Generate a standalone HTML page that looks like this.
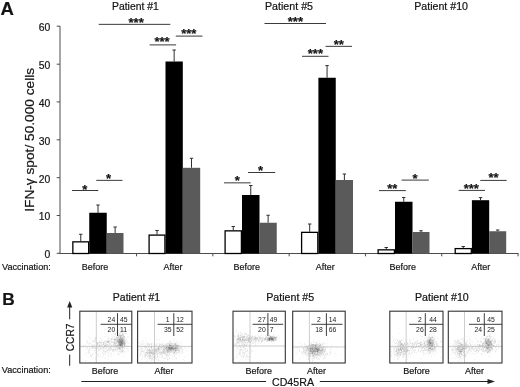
<!DOCTYPE html>
<html><head><meta charset="utf-8"><title>Figure</title>
<style>html,body{margin:0;padding:0;background:#fff}svg{display:block}text{font-family:"Liberation Sans",Arial,Helvetica,sans-serif;fill:#141414;stroke:#141414;stroke-width:.2px}.q text{stroke:none;fill:#222}</style></head><body>
<svg width="520" height="387" viewBox="0 0 520 387">
<rect width="520" height="387" fill="#fff"/>
<text x="0.4" y="15.3" font-size="18.5" text-anchor="start" font-weight="bold">A</text>
<text x="2.3" y="304.8" font-size="17.3" text-anchor="start" font-weight="bold">B</text>
<text x="112" y="9.6" font-size="10.1" text-anchor="start" textLength="46.75" lengthAdjust="spacingAndGlyphs">Patient #1</text>
<text x="265" y="9.6" font-size="10.1" text-anchor="start" textLength="48" lengthAdjust="spacingAndGlyphs">Patient #5</text>
<text x="414.25" y="9.6" font-size="10.1" text-anchor="start" textLength="53.75" lengthAdjust="spacingAndGlyphs">Patient #10</text>
<g stroke="#4c4c4c" stroke-width="1" fill="none">
<line x1="60.0" y1="26" x2="60.0" y2="253.5"/>
<line x1="59.5" y1="253.5" x2="518.4" y2="253.5"/>
<line x1="56.7" y1="26.2" x2="60.0" y2="26.2"/>
<line x1="56.7" y1="64.2" x2="60.0" y2="64.2"/>
<line x1="56.7" y1="101.9" x2="60.0" y2="101.9"/>
<line x1="56.7" y1="139.8" x2="60.0" y2="139.8"/>
<line x1="56.7" y1="177.7" x2="60.0" y2="177.7"/>
<line x1="56.7" y1="215.5" x2="60.0" y2="215.5"/>
<line x1="56.7" y1="253.3" x2="60.0" y2="253.3"/>
<line x1="136.55" y1="253.5" x2="136.55" y2="256.3"/>
<line x1="212.85" y1="253.5" x2="212.85" y2="256.3"/>
<line x1="289.15" y1="253.5" x2="289.15" y2="256.3"/>
<line x1="365.45" y1="253.5" x2="365.45" y2="256.3"/>
<line x1="441.75" y1="253.5" x2="441.75" y2="256.3"/>
<line x1="518.05" y1="253.5" x2="518.05" y2="256.3"/>
</g>
<text x="50.3" y="31.0" font-size="10.4" text-anchor="end">60</text>
<text x="50.3" y="69.0" font-size="10.4" text-anchor="end">50</text>
<text x="50.3" y="106.7" font-size="10.4" text-anchor="end">40</text>
<text x="50.3" y="144.60000000000002" font-size="10.4" text-anchor="end">30</text>
<text x="50.3" y="182.5" font-size="10.4" text-anchor="end">20</text>
<text x="50.3" y="220.3" font-size="10.4" text-anchor="end">10</text>
<text x="50.3" y="258.1" font-size="10.4" text-anchor="end">0</text>
<text transform="translate(34.1,211.8) rotate(-90)" font-size="12.5" textLength="144" lengthAdjust="spacingAndGlyphs">IFN-γ spot/ 50.000 cells</text>
<path d="M80.75 241.25 V234.25 M79.05 234.25 H82.45" stroke="#2e2e2e" stroke-width="1" fill="none"/>
<rect x="72.85" y="241.85" width="15.80" height="11.65" fill="#fff" stroke="#000" stroke-width="1.3"/>
<path d="M98.00 212.75 V205 M96.30 205 H99.70" stroke="#2e2e2e" stroke-width="1" fill="none"/>
<rect x="89.25" y="212.75" width="17.50" height="40.75" fill="#000"/>
<path d="M115.12 233 V227 M113.42 227 H116.83" stroke="#2e2e2e" stroke-width="1" fill="none"/>
<rect x="106.75" y="233" width="16.75" height="20.50" fill="#5a5a5a"/>
<path d="M157.00 234.5 V230.5 M155.30 230.5 H158.70" stroke="#2e2e2e" stroke-width="1" fill="none"/>
<rect x="149.10" y="235.10" width="15.80" height="18.40" fill="#fff" stroke="#000" stroke-width="1.3"/>
<path d="M174.15 61.5 V50 M172.45 50 H175.85" stroke="#2e2e2e" stroke-width="1" fill="none"/>
<rect x="165.50" y="61.5" width="17.30" height="192.00" fill="#000"/>
<path d="M191.50 167.8 V158.3 M189.80 158.3 H193.20" stroke="#2e2e2e" stroke-width="1" fill="none"/>
<rect x="182.80" y="167.8" width="17.40" height="85.70" fill="#5a5a5a"/>
<path d="M233.25 230.25 V226.5 M231.55 226.5 H234.95" stroke="#2e2e2e" stroke-width="1" fill="none"/>
<rect x="225.10" y="230.85" width="16.30" height="22.65" fill="#fff" stroke="#000" stroke-width="1.3"/>
<path d="M250.75 195 V185.5 M249.05 185.5 H252.45" stroke="#2e2e2e" stroke-width="1" fill="none"/>
<rect x="242.00" y="195" width="17.50" height="58.50" fill="#000"/>
<path d="M268.12 222.75 V215.25 M266.43 215.25 H269.82" stroke="#2e2e2e" stroke-width="1" fill="none"/>
<rect x="259.50" y="222.75" width="17.25" height="30.75" fill="#5a5a5a"/>
<path d="M309.70 231.75 V224 M308.00 224 H311.40" stroke="#2e2e2e" stroke-width="1" fill="none"/>
<rect x="301.60" y="232.35" width="16.20" height="21.15" fill="#fff" stroke="#000" stroke-width="1.3"/>
<path d="M327.07 77.75 V65.6 M325.38 65.6 H328.77" stroke="#2e2e2e" stroke-width="1" fill="none"/>
<rect x="318.40" y="77.75" width="17.35" height="175.75" fill="#000"/>
<path d="M344.38 180 V174 M342.68 174 H346.07" stroke="#2e2e2e" stroke-width="1" fill="none"/>
<rect x="335.75" y="180" width="17.25" height="73.50" fill="#5a5a5a"/>
<path d="M386.25 249.25 V247.5 M384.55 247.5 H387.95" stroke="#2e2e2e" stroke-width="1" fill="none"/>
<rect x="378.10" y="249.85" width="16.30" height="3.65" fill="#fff" stroke="#000" stroke-width="1.3"/>
<path d="M403.75 201.75 V197.5 M402.05 197.5 H405.45" stroke="#2e2e2e" stroke-width="1" fill="none"/>
<rect x="395.00" y="201.75" width="17.50" height="51.75" fill="#000"/>
<path d="M421.00 232 V230.75 M419.30 230.75 H422.70" stroke="#2e2e2e" stroke-width="1" fill="none"/>
<rect x="412.50" y="232" width="17.00" height="21.50" fill="#5a5a5a"/>
<path d="M463.25 248 V246.5 M461.55 246.5 H464.95" stroke="#2e2e2e" stroke-width="1" fill="none"/>
<rect x="455.20" y="248.60" width="16.10" height="4.90" fill="#fff" stroke="#000" stroke-width="1.3"/>
<path d="M480.55 200.2 V197.6 M478.85 197.6 H482.25" stroke="#2e2e2e" stroke-width="1" fill="none"/>
<rect x="471.90" y="200.2" width="17.30" height="53.30" fill="#000"/>
<path d="M497.70 231.25 V230 M496.00 230 H499.40" stroke="#2e2e2e" stroke-width="1" fill="none"/>
<rect x="489.20" y="231.25" width="17.00" height="22.25" fill="#5a5a5a"/>
<line x1="72" y1="190.5" x2="98.25" y2="190.5" stroke="#3a3a3a" stroke-width="1"/>
<text x="84.83" y="193.55" font-size="12.4" text-anchor="middle" font-weight="bold" textLength="5.07" lengthAdjust="spacingAndGlyphs">*</text>
<line x1="96.25" y1="180.35" x2="122.5" y2="180.35" stroke="#3a3a3a" stroke-width="1"/>
<text x="108.67" y="182.7" font-size="12.4" text-anchor="middle" font-weight="bold" textLength="5.07" lengthAdjust="spacingAndGlyphs">*</text>
<line x1="98.75" y1="24.35" x2="170.3" y2="24.35" stroke="#3a3a3a" stroke-width="1"/>
<text x="136.12" y="26.7" font-size="12.4" text-anchor="middle" font-weight="bold" textLength="15.21" lengthAdjust="spacingAndGlyphs">***</text>
<line x1="149.6" y1="44.9" x2="176.1" y2="44.9" stroke="#3a3a3a" stroke-width="1"/>
<text x="162.05" y="46.15" font-size="12.4" text-anchor="middle" font-weight="bold" textLength="15.21" lengthAdjust="spacingAndGlyphs">***</text>
<line x1="175.75" y1="36.1" x2="202.5" y2="36.1" stroke="#3a3a3a" stroke-width="1"/>
<text x="188.82" y="37.65" font-size="12.4" text-anchor="middle" font-weight="bold" textLength="15.21" lengthAdjust="spacingAndGlyphs">***</text>
<line x1="224" y1="182.85" x2="250.7" y2="182.85" stroke="#3a3a3a" stroke-width="1"/>
<text x="237.35" y="185.2" font-size="12.4" text-anchor="middle" font-weight="bold" textLength="5.07" lengthAdjust="spacingAndGlyphs">*</text>
<line x1="248" y1="172.5" x2="275.2" y2="172.5" stroke="#3a3a3a" stroke-width="1"/>
<text x="260.60" y="175.15" font-size="12.4" text-anchor="middle" font-weight="bold" textLength="5.07" lengthAdjust="spacingAndGlyphs">*</text>
<line x1="264.5" y1="23.5" x2="326" y2="23.5" stroke="#3a3a3a" stroke-width="1"/>
<text x="295.40" y="26.15" font-size="12.4" text-anchor="middle" font-weight="bold" textLength="15.21" lengthAdjust="spacingAndGlyphs">***</text>
<line x1="302" y1="56.3" x2="328.5" y2="56.3" stroke="#3a3a3a" stroke-width="1"/>
<text x="315.40" y="58.15" font-size="12.4" text-anchor="middle" font-weight="bold" textLength="15.21" lengthAdjust="spacingAndGlyphs">***</text>
<line x1="325.5" y1="46.35" x2="352" y2="46.35" stroke="#3a3a3a" stroke-width="1"/>
<text x="338.75" y="49.0" font-size="12.4" text-anchor="middle" font-weight="bold" textLength="10.14" lengthAdjust="spacingAndGlyphs">**</text>
<line x1="379" y1="190.6" x2="405.8" y2="190.6" stroke="#3a3a3a" stroke-width="1"/>
<text x="392.30" y="192.85" font-size="12.4" text-anchor="middle" font-weight="bold" textLength="10.14" lengthAdjust="spacingAndGlyphs">**</text>
<line x1="401.6" y1="180.1" x2="428.8" y2="180.1" stroke="#3a3a3a" stroke-width="1"/>
<text x="415.10" y="182.55" font-size="12.4" text-anchor="middle" font-weight="bold" textLength="5.07" lengthAdjust="spacingAndGlyphs">*</text>
<line x1="458.7" y1="190.4" x2="485" y2="190.4" stroke="#3a3a3a" stroke-width="1"/>
<text x="471.35" y="193.15" font-size="12.4" text-anchor="middle" font-weight="bold" textLength="15.21" lengthAdjust="spacingAndGlyphs">***</text>
<line x1="480.3" y1="180.4" x2="506.7" y2="180.4" stroke="#3a3a3a" stroke-width="1"/>
<text x="493.50" y="182.45" font-size="12.4" text-anchor="middle" font-weight="bold" textLength="10.14" lengthAdjust="spacingAndGlyphs">**</text>
<text x="2" y="269.6" font-size="9.5" text-anchor="start" textLength="48.75" lengthAdjust="spacingAndGlyphs">Vaccination:</text>
<text x="81.75" y="269.6" font-size="9.5" text-anchor="start" textLength="26.5" lengthAdjust="spacingAndGlyphs">Before</text>
<text x="163.6" y="269.6" font-size="9.5" text-anchor="start" textLength="18.9" lengthAdjust="spacingAndGlyphs">After</text>
<text x="233.6" y="269.6" font-size="9.5" text-anchor="start" textLength="26.5" lengthAdjust="spacingAndGlyphs">Before</text>
<text x="315.8" y="269.6" font-size="9.5" text-anchor="start" textLength="18.9" lengthAdjust="spacingAndGlyphs">After</text>
<text x="389.5" y="269.6" font-size="9.5" text-anchor="start" textLength="26.5" lengthAdjust="spacingAndGlyphs">Before</text>
<text x="471.25" y="269.6" font-size="9.5" text-anchor="start" textLength="18.9" lengthAdjust="spacingAndGlyphs">After</text>
<text x="1.8" y="373.2" font-size="9.5" text-anchor="start" textLength="49" lengthAdjust="spacingAndGlyphs">Vaccination:</text>
<text x="112.8" y="301" font-size="10.1" text-anchor="start" textLength="47.3" lengthAdjust="spacingAndGlyphs">Patient #1</text>
<text x="266.2" y="301" font-size="10.1" text-anchor="start" textLength="48" lengthAdjust="spacingAndGlyphs">Patient #5</text>
<text x="415" y="301" font-size="10.1" text-anchor="start" textLength="53.75" lengthAdjust="spacingAndGlyphs">Patient #10</text>
<text transform="translate(74.1,351.3) rotate(-90)" font-size="11.6" textLength="27.8" lengthAdjust="spacingAndGlyphs">CCR7</text>
<g stroke="#222" stroke-width="1" fill="none"><line x1="69.7" y1="305" x2="69.7" y2="319.3"/><line x1="69.7" y1="354.6" x2="69.7" y2="365.8"/></g>
<path d="M69.7 301 L72.3 307.6 L67.1 307.6 Z" fill="#222"/>
<g stroke="#222" stroke-width="1" fill="none"><line x1="81.3" y1="381.5" x2="266.1" y2="381.5"/><line x1="319.8" y1="381.5" x2="489" y2="381.5"/></g>
<path d="M495 381.5 L487.5 378.9 L487.5 384.1 Z" fill="#222"/>
<text x="272" y="385.6" font-size="11.5" text-anchor="start" textLength="42" lengthAdjust="spacingAndGlyphs">CD45RA</text>
<defs><filter id="bl" x="-5%" y="-5%" width="110%" height="110%"><feGaussianBlur stdDeviation="0.3"/></filter></defs>
<g class="q">
<rect x="79.8" y="311.2" width="52.00" height="51.80" fill="#fff"/>
<path filter="url(#bl)" d="M120.1 343.6h.6M120.2 340.2h.6M118.7 340.6h.6M123.1 343.3h.6M123.0 342.5h.6M121.6 342.3h.6M117.0 345.1h.6M121.8 343.6h.6M117.0 334.2h.6M118.7 339.5h.6M121.4 341.3h.6M121.8 338.8h.6M121.4 343.2h.6M119.2 348.7h.6M121.9 346.5h.6M119.3 338.4h.6M119.9 341.1h.6M122.1 342.5h.6M119.7 337.5h.6M119.6 346.6h.6M118.9 342.5h.6M121.6 335.2h.6M120.8 347.0h.6M116.3 340.1h.6M120.5 338.1h.6M121.8 341.2h.6M117.5 345.0h.6M122.2 345.5h.6M123.9 343.0h.6M121.0 336.0h.6M122.1 338.9h.6M119.7 336.2h.6M118.6 339.3h.6M123.5 333.0h.6M117.5 342.5h.6M123.9 343.9h.6M116.5 330.9h.6M121.5 338.4h.6M118.2 345.6h.6M123.1 342.2h.6M121.2 343.3h.6M124.2 344.1h.6M121.8 343.8h.6M117.2 346.9h.6M122.8 343.7h.6M116.4 338.8h.6M122.6 333.9h.6M120.3 345.8h.6M117.8 348.3h.6M121.9 340.9h.6M121.4 344.2h.6M121.0 346.3h.6M119.2 339.8h.6M123.0 341.6h.6M118.8 345.5h.6M123.9 339.6h.6M117.7 340.9h.6M120.4 340.2h.6M123.8 337.2h.6M123.5 336.2h.6M119.0 344.2h.6M123.2 345.1h.6M121.5 342.1h.6M121.0 343.9h.6M120.3 342.7h.6M122.0 341.5h.6M122.4 343.9h.6M125.1 342.9h.6M119.8 339.9h.6M120.7 345.4h.6M120.0 343.1h.6M124.7 330.7h.6M118.2 342.5h.6M121.6 342.5h.6M119.8 344.3h.6M121.3 339.3h.6M126.0 343.0h.6M119.5 341.1h.6M120.2 341.2h.6M114.7 339.5h.6M122.9 336.6h.6M120.6 345.5h.6M122.6 347.8h.6M117.0 340.0h.6M119.9 344.1h.6M123.1 330.2h.6M123.1 335.4h.6M122.2 335.2h.6M121.1 346.5h.6M120.4 342.3h.6M122.5 342.1h.6M120.5 347.9h.6M123.0 340.3h.6M126.7 336.7h.6M122.7 340.4h.6M121.0 344.5h.6M121.2 344.2h.6M117.3 335.2h.6M122.1 337.5h.6M118.4 335.3h.6M123.5 344.6h.6M123.9 337.6h.6M120.7 336.7h.6M122.4 348.2h.6M118.7 348.1h.6M122.9 340.8h.6M116.4 347.4h.6M120.5 339.0h.6M121.6 343.2h.6M124.0 337.2h.6M123.2 347.7h.6M123.9 340.7h.6M119.1 345.8h.6M121.0 342.0h.6M123.8 340.4h.6M115.6 339.9h.6M116.6 344.9h.6M121.4 338.9h.6M120.7 345.0h.6M120.9 347.1h.6M120.6 345.9h.6M124.0 348.3h.6M119.2 345.2h.6M116.6 336.9h.6M116.4 346.0h.6M118.0 341.4h.6M120.3 341.4h.6M119.4 342.5h.6M124.6 341.7h.6M121.9 345.7h.6M120.3 336.2h.6M119.5 346.0h.6M117.1 339.0h.6M122.9 344.8h.6M120.7 344.9h.6M121.1 336.5h.6M117.3 338.8h.6M122.7 339.1h.6M118.7 338.3h.6M117.3 341.0h.6M118.1 343.0h.6M115.5 342.9h.6M119.3 333.3h.6M122.3 340.3h.6M115.8 337.8h.6M121.3 339.6h.6M122.4 344.6h.6M122.2 342.9h.6M123.6 344.3h.6M121.7 332.7h.6M122.7 347.0h.6M120.0 339.5h.6M125.0 334.1h.6M121.7 351.7h.6M118.7 344.4h.6M124.9 341.0h.6M121.9 345.3h.6M118.7 341.1h.6M121.3 345.0h.6M120.6 340.7h.6M118.5 340.0h.6M122.7 341.9h.6M118.8 338.0h.6M126.6 346.3h.6M122.1 330.6h.6M122.1 343.5h.6M124.4 343.3h.6M120.6 343.7h.6M116.4 345.8h.6M121.4 338.6h.6M123.6 349.1h.6M117.6 338.7h.6M121.3 342.3h.6M119.8 337.4h.6M125.4 345.9h.6M118.1 335.9h.6M124.4 345.7h.6M124.7 344.9h.6M118.8 342.6h.6M115.9 338.4h.6M120.6 343.7h.6M119.1 341.0h.6M121.7 343.1h.6M122.1 342.4h.6M120.0 344.8h.6M120.8 338.0h.6M119.3 341.5h.6M120.5 342.2h.6M120.7 342.2h.6M120.4 336.2h.6M121.6 345.9h.6M121.7 340.7h.6M121.7 337.4h.6M116.5 341.8h.6M118.7 344.6h.6M118.3 330.5h.6M118.4 348.1h.6M119.9 335.7h.6M119.0 343.7h.6M121.8 342.2h.6M124.0 344.5h.6M120.7 344.0h.6M124.3 345.6h.6M123.0 337.0h.6M120.4 344.6h.6M120.0 346.0h.6M122.0 345.3h.6M120.2 352.2h.6M123.4 340.6h.6M120.9 352.4h.6M119.9 345.2h.6M122.9 341.5h.6M118.1 342.3h.6M121.5 346.2h.6M122.4 341.6h.6M122.6 343.8h.6M121.2 341.7h.6M120.2 344.4h.6M118.4 338.9h.6M120.7 335.4h.6M119.7 333.1h.6M119.2 343.9h.6M121.9 341.3h.6M120.2 335.5h.6M124.7 343.7h.6M123.1 337.8h.6M120.3 333.9h.6M122.4 345.4h.6M116.5 341.3h.6M122.1 334.1h.6M116.7 337.0h.6M119.3 335.6h.6M120.8 342.5h.6M122.1 344.4h.6M124.0 346.4h.6M117.8 339.4h.6M118.4 337.0h.6M120.5 341.5h.6M121.8 334.8h.6M118.0 341.4h.6M120.3 340.2h.6M120.6 338.3h.6M122.2 343.0h.6M120.5 338.7h.6M120.3 330.1h.6M118.5 341.7h.6M117.4 342.3h.6M121.0 335.7h.6M120.1 340.2h.6M121.7 344.1h.6M120.6 337.9h.6M120.4 341.2h.6M122.3 342.7h.6M119.1 335.8h.6M119.9 338.4h.6M118.3 341.0h.6M119.6 341.9h.6M121.9 339.8h.6M125.8 340.1h.6M123.1 342.0h.6M123.2 331.5h.6M119.0 342.5h.6M122.0 351.3h.6M121.4 346.9h.6M122.4 345.5h.6M121.8 340.8h.6M121.8 337.0h.6M123.3 337.2h.6M121.2 350.4h.6M120.2 341.6h.6M123.3 341.6h.6M118.9 342.6h.6M122.0 344.5h.6M119.0 348.9h.6M124.4 341.6h.6M121.3 339.7h.6M123.8 338.5h.6M122.2 339.5h.6M119.2 344.5h.6M123.6 341.5h.6M119.2 344.9h.6M120.6 342.8h.6M124.1 346.3h.6M119.6 351.1h.6M120.7 344.8h.6M119.3 341.3h.6M116.9 349.0h.6M123.7 336.4h.6M117.4 334.7h.6M123.3 339.6h.6M120.6 340.2h.6M120.4 336.9h.6M120.8 335.5h.6M120.5 342.8h.6M121.7 340.5h.6M118.7 342.2h.6M119.6 348.1h.6M122.4 341.0h.6M119.7 338.5h.6M118.6 340.0h.6M121.3 343.7h.6M122.0 350.3h.6M119.1 341.6h.6M126.8 333.7h.6M119.6 342.2h.6M121.0 343.2h.6M120.2 343.0h.6M120.8 344.7h.6M116.5 337.8h.6M120.7 337.2h.6M118.4 344.1h.6M119.3 344.2h.6M122.3 342.8h.6M121.8 341.1h.6M117.6 341.4h.6M121.7 339.3h.6M120.5 344.6h.6M118.8 344.2h.6M124.8 339.2h.6M121.0 340.9h.6M124.1 342.8h.6M122.7 338.6h.6M120.7 341.5h.6M116.8 347.6h.6M122.7 334.2h.6M122.3 340.9h.6M121.7 343.0h.6M117.4 340.6h.6M124.0 339.1h.6M118.4 335.8h.6M118.0 342.9h.6M124.4 343.3h.6M121.2 350.9h.6M119.6 338.7h.6M121.9 343.8h.6M118.5 336.6h.6M121.3 342.5h.6M117.8 340.7h.6M119.5 343.4h.6M120.4 341.1h.6M119.9 345.9h.6M123.8 340.0h.6M122.6 338.3h.6M120.9 344.6h.6M124.0 339.9h.6M120.5 342.3h.6M117.4 341.6h.6M119.2 343.1h.6M118.2 333.2h.6M120.8 342.6h.6M119.5 345.2h.6M120.1 339.0h.6M121.8 334.9h.6M119.2 341.4h.6M122.6 340.8h.6M121.4 338.7h.6M121.4 348.5h.6M119.2 351.4h.6M119.3 341.6h.6M121.1 345.8h.6M118.0 332.7h.6M122.0 344.8h.6M122.1 352.5h.6M121.2 342.6h.6M122.7 343.0h.6M124.4 336.3h.6M119.9 327.0h.6M122.5 339.9h.6M122.7 350.5h.6M120.7 340.4h.6M119.6 338.0h.6M119.3 344.2h.6M120.8 341.8h.6M120.3 345.3h.6M121.8 340.9h.6M122.2 340.9h.6M118.2 347.6h.6M121.7 337.5h.6M123.1 342.9h.6M117.3 348.3h.6M121.4 345.2h.6M121.1 340.9h.6M117.3 345.6h.6M120.8 340.3h.6M121.5 341.8h.6M122.2 339.9h.6M120.6 332.5h.6M119.8 344.3h.6M123.6 340.0h.6M120.4 348.2h.6M120.0 344.6h.6M124.4 341.7h.6M123.4 338.5h.6M121.2 341.2h.6M121.0 346.2h.6M126.0 338.7h.6M119.4 343.6h.6M118.4 343.6h.6M122.0 340.3h.6M121.9 335.0h.6M122.4 335.0h.6M119.2 339.2h.6M119.8 345.1h.6M120.9 339.8h.6M121.9 348.1h.6M120.7 343.0h.6M123.4 342.6h.6M117.9 352.0h.6M125.6 333.2h.6M120.6 343.3h.6M122.8 344.3h.6M120.1 337.1h.6M120.9 345.8h.6M118.3 337.2h.6M120.6 333.4h.6M120.1 339.7h.6M121.7 338.6h.6M118.8 339.8h.6M120.6 338.7h.6M120.7 344.7h.6M123.9 351.5h.6M114.1 340.9h.6M105.6 352.5h.6M114.4 342.8h.6M120.6 336.2h.6M120.3 342.9h.6M108.9 344.5h.6M124.0 333.7h.6M122.0 344.0h.6M120.4 345.2h.6M124.5 341.9h.6M122.4 341.0h.6M121.6 338.9h.6M117.5 351.7h.6M120.2 342.2h.6M112.3 339.0h.6M119.0 347.7h.6M120.1 345.6h.6M117.8 349.8h.6M116.0 340.3h.6M122.4 343.3h.6M116.6 340.1h.6M116.7 346.1h.6M119.8 337.0h.6M120.1 343.9h.6M113.0 346.9h.6M116.6 341.3h.6M122.0 349.6h.6M114.6 345.2h.6M113.6 354.6h.6M115.5 349.0h.6M114.8 347.1h.6M129.1 330.3h.6M115.8 345.5h.6M117.5 339.7h.6M128.8 343.4h.6M109.8 347.3h.6M109.4 348.8h.6M115.1 343.7h.6M124.3 343.6h.6M111.0 334.5h.6M123.9 346.7h.6M113.9 347.3h.6M120.5 346.2h.6M106.7 341.5h.6M122.5 346.7h.6M122.4 330.7h.6M118.8 345.5h.6M130.8 338.2h.6M116.4 343.2h.6M122.4 340.8h.6M123.7 339.1h.6M119.3 340.4h.6M118.8 339.5h.6M110.0 348.5h.6M119.5 340.2h.6M119.0 348.0h.6M113.1 342.4h.6M120.7 345.6h.6M116.3 332.5h.6M124.2 344.6h.6M118.1 341.6h.6M119.3 340.9h.6M112.9 339.3h.6M115.0 339.9h.6M112.2 346.2h.6M111.5 346.3h.6M112.9 344.8h.6M124.9 344.0h.6M114.3 343.2h.6M118.7 334.3h.6M115.0 343.8h.6M115.7 343.4h.6M121.7 346.8h.6M122.5 345.9h.6M116.6 342.9h.6M116.6 341.4h.6M117.1 334.4h.6M116.3 342.9h.6M113.1 342.9h.6M120.6 342.2h.6M128.4 330.0h.6M117.0 333.9h.6M122.9 356.3h.6M105.5 343.6h.6M120.6 341.5h.6M120.8 331.8h.6M122.3 344.9h.6M118.1 340.1h.6M121.2 340.6h.6M119.1 340.4h.6M106.8 342.8h.6M119.0 346.8h.6M113.6 342.8h.6M121.1 343.7h.6M124.2 353.0h.6M113.5 333.4h.6M122.3 350.6h.6M122.6 347.1h.6M114.9 339.4h.6M122.4 338.4h.6M108.9 338.0h.6M130.5 352.6h.6M114.6 339.4h.6M119.2 339.3h.6M124.6 342.6h.6M112.6 349.5h.6M115.1 344.1h.6M117.9 341.4h.6M119.6 339.5h.6M108.8 332.0h.6M111.7 339.2h.6M117.9 343.3h.6M120.8 343.6h.6M114.0 339.5h.6M107.4 342.2h.6M120.4 345.6h.6M117.4 342.1h.6M122.7 343.1h.6M121.7 345.9h.6M119.1 349.5h.6M115.1 341.2h.6M114.0 339.0h.6M125.8 351.8h.6M118.1 345.8h.6M123.9 347.0h.6M124.0 336.7h.6M114.8 345.3h.6M125.2 343.5h.6M113.7 341.2h.6M114.7 338.7h.6M125.5 339.9h.6M118.1 353.8h.6M123.9 344.7h.6M114.9 345.1h.6M126.1 346.1h.6M124.3 343.5h.6M120.6 342.0h.6M120.1 349.5h.6M110.8 342.7h.6M119.2 340.1h.6M116.5 346.9h.6M128.0 346.1h.6M119.6 335.2h.6M127.6 343.4h.6M117.8 337.4h.6M117.7 337.5h.6M118.4 345.3h.6M118.2 344.4h.6M113.7 350.1h.6M114.7 333.9h.6M117.1 339.2h.6M113.0 341.2h.6M119.5 337.1h.6M117.3 350.1h.6M121.4 342.2h.6M118.6 342.4h.6M117.8 346.7h.6M117.5 331.0h.6M117.9 338.6h.6M121.3 339.9h.6M118.7 353.9h.6M112.8 337.4h.6M110.9 331.0h.6M108.6 344.8h.6M114.8 333.7h.6M110.6 346.1h.6M114.1 341.2h.6M119.7 349.8h.6M127.7 348.2h.6M118.7 343.9h.6M127.0 350.1h.6M116.4 345.3h.6M119.4 343.3h.6M115.5 336.4h.6M115.3 335.3h.6M124.1 345.7h.6M112.0 350.0h.6M122.5 333.5h.6M127.2 347.0h.6M128.3 336.8h.6M120.7 345.1h.6M119.0 343.9h.6M123.3 335.5h.6M111.8 336.0h.6M115.2 340.0h.6M119.8 344.3h.6M118.2 339.6h.6M115.8 347.8h.6M121.8 343.5h.6M116.4 350.8h.6M115.0 346.2h.6M123.8 341.7h.6M122.1 337.4h.6M123.1 344.0h.6M110.1 346.3h.6M113.5 349.4h.6M114.6 342.2h.6M119.4 341.3h.6M119.3 340.2h.6M121.4 343.0h.6M119.1 329.2h.6M123.8 343.2h.6M109.1 343.5h.6M120.3 348.4h.6M112.6 350.7h.6M117.2 355.0h.6M117.3 346.4h.6M116.2 337.4h.6M123.5 347.5h.6M125.7 347.3h.6M115.1 334.7h.6M114.7 339.6h.6M113.9 345.9h.6M119.6 341.7h.6M118.9 342.3h.6M119.1 346.8h.6M122.8 339.6h.6M110.5 350.1h.6M118.6 348.5h.6M109.8 341.4h.6M118.1 335.8h.6M115.4 346.6h.6M123.4 351.0h.6M113.7 336.0h.6M120.6 347.7h.6M119.0 336.5h.6M121.9 347.0h.6M120.8 340.6h.6M119.5 347.0h.6M115.2 333.8h.6M119.6 345.4h.6M118.1 347.4h.6M115.1 342.6h.6M116.5 345.9h.6M126.0 341.7h.6M128.3 350.6h.6M122.0 345.9h.6M126.9 342.1h.6M117.4 337.7h.6M120.4 349.7h.6M120.7 345.1h.6M117.0 343.8h.6M110.9 348.2h.6M116.0 337.5h.6M114.2 338.9h.6M122.3 348.3h.6M111.2 347.6h.6M122.4 340.1h.6M110.6 339.3h.6M114.8 344.7h.6M116.2 332.9h.6M119.2 335.3h.6M122.5 337.0h.6M114.5 338.7h.6M115.3 349.5h.6M122.3 346.0h.6M119.6 335.3h.6M115.4 340.2h.6M113.1 345.5h.6M97.3 342.5h.6M94.6 337.8h.6M109.4 349.7h.6M105.6 341.6h.6M114.9 346.0h.6M112.3 350.2h.6M114.1 343.5h.6M113.5 347.7h.6M90.2 343.6h.6M91.2 344.6h.6M109.2 341.3h.6M85.5 349.5h.6M107.4 350.1h.6M92.1 348.7h.6M122.7 352.0h.6M102.1 345.9h.6M102.6 348.5h.6M113.3 345.3h.6M91.8 347.6h.6M99.8 347.2h.6M106.4 350.7h.6M114.2 343.4h.6M107.1 351.2h.6M99.2 346.5h.6M114.7 349.4h.6M108.7 340.4h.6M92.7 345.9h.6M107.5 353.9h.6M96.2 349.0h.6M110.9 339.1h.6M96.6 345.6h.6M99.6 344.5h.6M108.2 342.2h.6M108.2 342.8h.6M99.1 346.9h.6M98.8 346.0h.6M118.4 345.1h.6M102.7 347.6h.6M100.7 348.8h.6M92.5 347.2h.6M99.4 342.2h.6M119.9 342.0h.6M119.8 347.3h.6M117.1 341.6h.6M114.8 350.1h.6M103.0 344.5h.6M126.1 345.6h.6M100.2 342.8h.6M108.0 346.2h.6M105.6 351.0h.6M101.0 346.7h.6M117.1 341.5h.6M113.3 351.4h.6M91.8 341.2h.6M94.7 338.5h.6M108.1 338.5h.6M108.5 350.1h.6M89.5 343.9h.6M86.7 347.7h.6M97.4 344.1h.6M104.5 346.9h.6M100.9 345.1h.6M99.1 345.4h.6M93.4 345.2h.6M86.6 343.3h.6M121.2 345.3h.6M92.7 345.9h.6M95.2 339.2h.6M97.4 347.6h.6M107.5 344.7h.6M95.7 341.2h.6M116.1 345.9h.6M95.4 337.6h.6M91.7 353.7h.6M93.7 344.7h.6M105.9 344.4h.6M101.5 340.2h.6M94.5 350.9h.6M97.2 348.0h.6M88.8 344.0h.6M106.3 348.6h.6M93.9 347.1h.6M107.5 342.4h.6M108.3 341.9h.6M96.8 344.9h.6M95.0 339.9h.6M100.2 347.7h.6M100.4 349.4h.6M93.6 340.4h.6M118.0 346.4h.6M112.5 342.1h.6M111.2 345.9h.6M109.8 345.1h.6M114.9 342.7h.6M95.3 339.8h.6M114.4 342.4h.6M94.6 341.7h.6M100.0 340.6h.6M101.4 342.8h.6M99.0 341.6h.6M104.3 343.4h.6M105.0 345.9h.6M107.1 337.3h.6M99.2 342.2h.6M111.0 339.5h.6M97.6 344.0h.6M101.0 348.5h.6M100.0 348.4h.6M90.8 338.7h.6M115.0 346.5h.6M108.4 345.4h.6M108.4 340.7h.6M112.5 343.1h.6M112.9 345.3h.6M86.2 340.5h.6M114.1 344.5h.6M100.4 345.8h.6M100.2 343.1h.6M104.9 345.5h.6M117.7 345.2h.6M120.9 351.3h.6M119.4 348.7h.6M105.2 345.5h.6M102.7 342.4h.6M103.4 342.8h.6M118.8 346.9h.6M100.0 338.3h.6M103.5 343.5h.6M94.2 341.0h.6M83.7 347.0h.6M103.4 354.0h.6M103.7 344.5h.6M117.0 345.5h.6M105.5 343.7h.6M98.6 350.2h.6M113.0 351.0h.6M100.9 345.1h.6M96.1 348.4h.6M91.5 347.0h.6M113.9 349.9h.6M95.5 348.8h.6M97.6 342.4h.6M92.1 349.0h.6M118.8 342.9h.6M97.2 343.8h.6M126.6 348.5h.6M99.1 338.7h.6M97.9 349.2h.6M120.8 344.1h.6M97.8 343.2h.6M87.0 348.2h.6M94.2 348.7h.6M88.6 340.6h.6M106.6 342.3h.6M111.0 345.0h.6M93.4 347.2h.6M111.6 338.3h.6M120.4 346.7h.6M110.8 338.5h.6M97.5 343.8h.6M113.7 339.9h.6M96.0 337.9h.6M101.8 346.2h.6M88.8 342.9h.6M108.6 350.5h.6M110.0 343.9h.6M93.4 341.7h.6M98.0 345.5h.6M103.6 350.8h.6M106.6 341.2h.6M117.9 348.3h.6M104.9 342.5h.6M87.2 341.4h.6M112.2 342.2h.6M92.1 345.7h.6M106.2 347.1h.6M109.9 349.9h.6M96.4 348.4h.6M95.1 347.4h.6M105.6 345.9h.6M112.7 344.9h.6M114.0 348.1h.6M105.2 343.0h.6M97.2 343.2h.6M102.2 344.9h.6M110.9 342.0h.6M97.6 343.9h.6M105.7 341.4h.6M118.5 343.0h.6M113.7 336.8h.6M103.9 346.0h.6M105.7 347.1h.6M106.5 345.6h.6M87.0 342.5h.6M82.9 347.2h.6M106.8 344.3h.6M96.6 343.0h.6M120.6 351.1h.6M103.5 349.5h.6M89.7 338.2h.6M99.7 341.9h.6M99.0 345.7h.6M104.4 346.0h.6M103.7 348.3h.6M120.0 340.6h.6M105.5 344.1h.6M107.2 339.6h.6M88.2 336.9h.6M108.7 345.7h.6M104.7 336.7h.6M100.6 342.4h.6M91.3 341.8h.6M110.3 346.9h.6M103.8 346.8h.6M98.6 345.2h.6M104.4 346.9h.6M103.4 344.5h.6M102.8 342.7h.6M124.1 346.8h.6M107.9 353.0h.6M116.6 339.6h.6M110.3 347.9h.6M121.0 349.6h.6M110.9 340.9h.6M96.2 345.9h.6M108.5 341.4h.6M100.5 343.6h.6M104.5 346.2h.6M101.4 340.7h.6M115.2 350.6h.6M103.0 348.6h.6M108.0 347.3h.6M108.3 342.3h.6M109.2 348.5h.6M95.9 351.9h.6M122.8 351.4h.6M121.9 347.6h.6M101.0 342.9h.6M96.7 345.4h.6M103.7 347.3h.6M85.8 353.1h.6M124.5 344.9h.6M110.1 346.7h.6M106.5 344.3h.6M102.9 342.1h.6M105.6 344.9h.6M106.9 342.0h.6M104.4 345.2h.6M109.4 341.3h.6M107.8 348.4h.6M109.4 343.7h.6M99.6 344.2h.6M110.6 350.4h.6M102.6 342.8h.6M107.4 345.7h.6M95.8 342.4h.6M103.1 347.4h.6M93.3 341.4h.6M108.5 340.7h.6M105.0 346.2h.6M98.9 345.9h.6M99.4 349.3h.6M103.4 346.8h.6M110.9 342.6h.6M98.2 351.0h.6M109.6 348.0h.6M105.5 348.2h.6M107.4 359.7h.6M96.0 353.2h.6M90.7 355.9h.6M112.1 351.2h.6M88.7 353.0h.6M111.5 356.4h.6M108.1 341.8h.6M93.2 358.1h.6M87.7 356.7h.6M118.8 354.8h.6M111.2 349.3h.6M87.7 350.5h.6M98.0 350.8h.6M107.0 350.3h.6M101.9 353.1h.6M99.9 360.2h.6M104.4 351.4h.6M97.9 347.9h.6M113.4 351.8h.6M89.2 348.2h.6M98.6 348.8h.6M110.8 345.2h.6M104.9 351.7h.6M88.2 351.2h.6M99.1 353.5h.6M95.5 352.5h.6M83.3 345.6h.6M107.8 356.2h.6M99.9 348.0h.6M110.8 340.5h.6M92.0 354.4h.6M106.5 345.8h.6M81.1 358.3h.6M101.5 346.5h.6M100.5 355.5h.6M107.4 340.6h.6M107.7 342.1h.6M111.4 353.0h.6M122.5 347.9h.6M100.0 356.2h.6M93.6 347.5h.6M96.3 350.6h.6M89.2 353.4h.6M105.4 351.4h.6M117.0 349.4h.6M113.1 348.3h.6M107.6 341.3h.6M102.0 350.1h.6M95.0 347.9h.6M96.5 347.4h.6M94.5 348.4h.6M89.4 350.3h.6M107.8 349.7h.6M95.1 357.8h.6M109.8 355.6h.6M111.6 349.4h.6M98.7 356.6h.6M94.5 350.4h.6M103.8 352.9h.6M97.2 355.9h.6M98.2 354.6h.6M110.7 354.3h.6M107.3 345.2h.6M86.9 347.9h.6M104.8 358.5h.6M87.8 352.5h.6M91.5 347.3h.6M97.2 354.5h.6M102.1 356.9h.6M90.1 355.4h.6M109.3 351.3h.6M104.8 348.2h.6M89.1 349.0h.6M95.1 359.3h.6M102.0 352.6h.6M107.4 347.1h.6M109.2 352.9h.6M84.8 354.0h.6M105.5 353.3h.6M115.8 348.9h.6M105.1 354.7h.6M91.0 357.0h.6M85.5 344.5h.6M105.2 345.6h.6M98.8 342.8h.6M100.7 345.3h.6M103.4 343.3h.6M104.5 349.7h.6M100.6 350.7h.6M101.3 344.4h.6M90.6 348.7h.6M104.3 341.1h.6M92.4 347.9h.6M89.4 352.6h.6M98.6 346.9h.6M90.2 355.0h.6M93.4 353.9h.6M104.5 341.5h.6M89.2 351.0h.6M103.4 354.9h.6M108.0 356.2h.6M96.3 349.9h.6M107.8 348.9h.6M110.6 343.1h.6M106.5 350.1h.6M103.1 351.1h.6M89.2 348.7h.6M115.1 346.9h.6M88.0 350.3h.6M96.1 346.4h.6M91.6 356.2h.6M85.6 360.8h.6M94.6 345.5h.6" stroke="#444" stroke-opacity=".26" stroke-width=".6" fill="none"/>
<path d="M96.3 311.2V363.0M79.8 346.4H131.8" stroke="#c0c0c0" stroke-width=".8" fill="none"/>
<rect x="79.8" y="311.2" width="52.00" height="51.80" fill="none" stroke="#333" stroke-width="1.1"/>
<path d="M117.5 313.2V336M100.6 324.3H131.8" stroke="#2a2a2a" stroke-width=".9" fill="none"/>
<text x="111.40" y="322.2" font-size="6.8" text-anchor="middle">24</text>
<text x="120.00" y="322.2" font-size="6.8" text-anchor="start">45</text>
<text x="111.40" y="332" font-size="6.8" text-anchor="middle">20</text>
<text x="120.00" y="332" font-size="6.8" text-anchor="start">11</text>
</g>
<text x="91.75" y="373.6" font-size="9.5" text-anchor="start" textLength="26.4" lengthAdjust="spacingAndGlyphs">Before</text>
<g class="q">
<rect x="137.6" y="311.2" width="54.40" height="51.80" fill="#fff"/>
<path filter="url(#bl)" d="M175.0 348.8h.6M166.8 349.2h.6M163.2 345.6h.6M176.6 347.0h.6M165.6 348.7h.6M175.6 347.6h.6M163.4 346.8h.6M173.4 349.3h.6M179.8 347.0h.6M169.3 347.5h.6M176.9 345.5h.6M177.4 341.6h.6M175.1 346.1h.6M173.6 349.1h.6M166.2 347.4h.6M172.6 348.9h.6M167.3 345.4h.6M162.8 353.2h.6M170.6 347.1h.6M164.8 349.6h.6M169.1 350.8h.6M175.3 347.6h.6M174.8 345.2h.6M170.0 346.3h.6M165.8 347.6h.6M170.8 350.8h.6M156.4 346.1h.6M167.4 346.6h.6M173.4 348.5h.6M171.6 346.6h.6M173.7 348.4h.6M163.2 347.0h.6M165.3 345.0h.6M172.2 347.7h.6M172.0 345.7h.6M170.6 345.6h.6M173.2 349.1h.6M179.4 350.4h.6M167.9 346.6h.6M167.3 348.3h.6M180.4 349.2h.6M161.6 344.8h.6M165.7 348.7h.6M171.5 348.3h.6M179.5 345.8h.6M167.7 351.9h.6M173.0 345.9h.6M162.4 344.2h.6M160.5 347.8h.6M171.7 349.8h.6M170.9 346.1h.6M168.2 351.8h.6M163.6 348.0h.6M171.6 349.0h.6M169.7 348.7h.6M175.2 347.3h.6M169.4 347.2h.6M167.2 347.1h.6M170.1 348.1h.6M177.5 350.5h.6M169.5 348.9h.6M172.8 349.3h.6M171.6 348.2h.6M169.4 345.9h.6M175.4 350.5h.6M174.5 348.6h.6M172.7 346.6h.6M163.5 349.1h.6M172.4 346.4h.6M167.2 350.4h.6M163.4 351.5h.6M174.4 352.8h.6M168.3 347.6h.6M169.2 347.9h.6M170.6 346.0h.6M176.3 345.9h.6M169.2 348.8h.6M169.1 346.6h.6M173.1 346.8h.6M165.9 347.4h.6M170.5 351.4h.6M166.6 349.7h.6M168.0 346.8h.6M170.0 348.2h.6M175.4 351.4h.6M168.6 350.5h.6M176.0 349.4h.6M168.1 349.6h.6M171.0 348.4h.6M170.3 349.1h.6M176.5 350.1h.6M170.6 349.8h.6M178.0 345.5h.6M178.1 344.7h.6M173.9 348.9h.6M178.2 348.2h.6M169.3 345.8h.6M165.9 349.3h.6M170.4 346.0h.6M173.9 345.9h.6M169.5 346.6h.6M178.9 350.8h.6M170.8 344.1h.6M172.7 347.8h.6M173.1 348.8h.6M170.1 349.6h.6M175.3 348.1h.6M169.7 346.5h.6M174.6 345.2h.6M170.8 346.0h.6M165.2 348.9h.6M171.4 347.7h.6M175.4 344.3h.6M171.2 348.2h.6M175.2 345.2h.6M174.7 348.1h.6M177.6 350.1h.6M174.0 352.3h.6M171.5 346.7h.6M170.0 345.5h.6M171.4 343.5h.6M171.1 348.5h.6M176.0 346.8h.6M177.7 346.2h.6M170.9 343.5h.6M168.1 345.9h.6M178.1 348.7h.6M166.6 348.7h.6M173.6 347.1h.6M171.6 346.9h.6M169.1 343.8h.6M171.1 350.4h.6M177.8 347.0h.6M168.2 347.1h.6M175.4 348.4h.6M168.9 348.4h.6M170.6 348.7h.6M169.7 344.4h.6M171.8 349.2h.6M166.6 347.4h.6M175.4 346.8h.6M168.6 352.0h.6M175.1 349.8h.6M167.4 351.1h.6M164.2 346.5h.6M174.7 350.4h.6M167.4 346.2h.6M172.4 343.5h.6M174.3 348.8h.6M169.5 348.7h.6M174.9 348.3h.6M173.8 350.8h.6M169.4 347.9h.6M169.2 349.8h.6M169.7 348.6h.6M172.1 347.7h.6M179.0 347.4h.6M177.7 349.4h.6M177.3 347.2h.6M175.5 349.2h.6M168.8 348.2h.6M170.9 347.5h.6M177.2 346.1h.6M164.2 343.9h.6M169.5 346.2h.6M171.6 348.8h.6M179.1 348.3h.6M173.5 346.0h.6M174.0 350.5h.6M177.3 343.5h.6M175.4 351.0h.6M175.1 344.4h.6M170.2 348.8h.6M173.3 345.9h.6M167.6 349.6h.6M165.7 350.6h.6M171.6 348.2h.6M165.7 346.3h.6M174.5 344.5h.6M180.5 344.6h.6M166.2 347.7h.6M173.6 349.2h.6M169.9 347.2h.6M170.5 346.4h.6M160.3 349.6h.6M172.6 347.9h.6M168.8 348.1h.6M171.4 347.4h.6M176.3 344.0h.6M172.6 345.3h.6M170.1 350.8h.6M166.8 347.4h.6M168.9 349.6h.6M167.3 344.0h.6M173.7 346.9h.6M170.1 349.9h.6M167.7 346.8h.6M172.1 348.5h.6M169.3 349.8h.6M181.2 346.7h.6M179.6 343.1h.6M177.6 346.9h.6M172.1 346.9h.6M168.7 344.9h.6M169.8 350.3h.6M176.4 346.9h.6M169.2 346.1h.6M166.3 351.4h.6M174.4 347.8h.6M169.4 345.4h.6M177.2 349.2h.6M167.4 349.7h.6M166.7 349.0h.6M167.3 346.7h.6M173.6 348.5h.6M175.9 345.8h.6M178.3 350.4h.6M171.5 348.6h.6M168.1 347.3h.6M165.8 347.8h.6M172.4 350.4h.6M175.6 349.3h.6M169.9 347.1h.6M170.0 348.1h.6M163.2 349.2h.6M164.7 346.5h.6M171.6 346.5h.6M178.7 347.4h.6M178.3 350.1h.6M169.4 348.4h.6M177.1 346.9h.6M171.9 346.4h.6M171.8 346.9h.6M171.9 349.7h.6M177.5 347.9h.6M172.4 349.4h.6M170.2 345.4h.6M176.3 345.6h.6M175.5 345.6h.6M179.4 345.4h.6M175.2 350.8h.6M167.3 350.7h.6M167.9 343.9h.6M174.6 349.1h.6M170.6 342.3h.6M171.3 347.0h.6M169.9 347.0h.6M163.8 346.4h.6M179.3 350.9h.6M169.9 346.1h.6M173.2 349.8h.6M174.6 345.1h.6M172.2 347.9h.6M177.7 350.1h.6M173.8 350.2h.6M169.8 350.8h.6M169.7 348.4h.6M175.5 345.7h.6M168.5 343.9h.6M172.2 347.5h.6M170.1 348.7h.6M162.4 347.6h.6M171.9 347.0h.6M174.9 351.3h.6M169.6 345.6h.6M168.9 347.8h.6M174.0 345.8h.6M175.8 345.4h.6M175.1 348.5h.6M173.5 352.2h.6M170.4 347.3h.6M173.6 349.4h.6M165.7 348.2h.6M168.3 348.9h.6M177.4 347.7h.6M171.0 348.0h.6M158.7 349.2h.6M173.9 347.9h.6M169.8 346.1h.6M170.7 350.2h.6M171.1 350.4h.6M160.4 346.6h.6M172.7 347.6h.6M164.3 346.2h.6M176.9 344.9h.6M167.2 345.3h.6M169.1 349.0h.6M174.1 343.3h.6M177.8 346.3h.6M169.0 351.1h.6M171.1 345.0h.6M168.7 346.1h.6M167.1 346.9h.6M175.3 348.3h.6M165.5 353.5h.6M167.2 347.8h.6M171.6 349.2h.6M170.1 348.6h.6M180.6 347.8h.6M166.8 348.3h.6M168.0 346.8h.6M172.3 348.3h.6M170.3 349.4h.6M170.7 344.8h.6M175.3 346.8h.6M176.7 346.2h.6M174.0 348.3h.6M159.8 344.4h.6M166.7 350.6h.6M163.3 349.5h.6M176.2 348.6h.6M174.4 346.6h.6M171.5 348.1h.6M173.3 349.1h.6M170.6 346.1h.6M169.1 348.5h.6M164.3 345.0h.6M169.7 346.4h.6M170.3 342.0h.6M170.0 347.1h.6M174.9 343.4h.6M170.2 348.6h.6M173.6 350.1h.6M176.1 345.4h.6M174.3 346.9h.6M168.0 350.8h.6M168.8 345.8h.6M169.7 345.8h.6M175.9 348.4h.6M177.6 348.5h.6M168.8 349.8h.6M168.7 346.6h.6M170.8 347.7h.6M176.7 346.3h.6M173.0 347.5h.6M166.1 345.3h.6M170.5 348.5h.6M172.9 348.6h.6M171.7 346.7h.6M173.3 345.5h.6M165.7 346.9h.6M165.3 346.5h.6M168.3 346.4h.6M171.3 345.9h.6M169.7 344.0h.6M172.1 345.7h.6M173.3 341.6h.6M168.0 348.1h.6M160.9 346.8h.6M171.9 347.8h.6M165.0 348.1h.6M172.1 345.5h.6M174.7 347.5h.6M171.6 346.6h.6M173.9 347.8h.6M176.4 348.6h.6M168.8 347.1h.6M175.5 346.8h.6M173.2 348.7h.6M170.7 342.7h.6M172.1 348.1h.6M172.1 346.0h.6M176.8 347.3h.6M168.8 346.1h.6M173.1 345.3h.6M167.1 351.9h.6M177.2 349.8h.6M177.4 348.9h.6M164.2 350.1h.6M176.9 348.6h.6M163.0 350.2h.6M177.4 346.6h.6M172.1 349.3h.6M171.1 349.9h.6M171.9 349.1h.6M171.9 344.4h.6M167.2 354.3h.6M172.7 350.4h.6M176.5 351.3h.6M173.9 346.3h.6M171.6 343.5h.6M170.7 349.5h.6M162.1 348.0h.6M175.1 350.4h.6M167.5 346.2h.6M163.3 345.4h.6M173.8 352.0h.6M166.5 350.5h.6M173.4 346.5h.6M181.1 342.2h.6M171.2 348.1h.6M180.8 351.4h.6M181.4 347.9h.6M175.8 350.5h.6M173.7 348.4h.6M170.7 346.7h.6M166.1 351.8h.6M169.5 343.2h.6M172.7 347.5h.6M172.3 351.5h.6M171.0 347.0h.6M168.2 347.6h.6M169.6 348.0h.6M185.2 348.4h.6M167.8 351.7h.6M175.3 349.3h.6M174.6 349.4h.6M174.5 350.6h.6M175.9 350.5h.6M169.3 347.6h.6M168.3 349.6h.6M175.1 346.6h.6M174.1 353.2h.6M176.9 345.2h.6M171.1 349.0h.6M171.3 348.4h.6M176.7 348.3h.6M166.7 349.1h.6M171.1 347.8h.6M169.0 344.6h.6M155.1 348.6h.6M156.6 339.4h.6M176.1 345.5h.6M159.6 352.1h.6M144.9 355.2h.6M159.3 352.6h.6M161.8 351.2h.6M166.9 350.0h.6M150.0 344.3h.6M165.6 355.5h.6M161.2 352.1h.6M167.4 351.9h.6M174.7 344.2h.6M168.4 349.3h.6M163.3 346.7h.6M159.1 346.0h.6M156.4 359.8h.6M180.9 350.0h.6M172.5 346.2h.6M141.6 342.9h.6M167.2 355.6h.6M165.6 346.1h.6M163.9 346.1h.6M153.8 349.1h.6M162.5 346.8h.6M158.2 346.4h.6M168.1 355.4h.6M164.2 358.7h.6M151.8 351.1h.6M155.9 349.4h.6M166.9 352.2h.6M175.9 347.8h.6M155.1 349.3h.6M168.6 347.3h.6M173.8 356.6h.6M153.5 351.4h.6M174.9 342.5h.6M167.8 349.1h.6M153.5 355.1h.6M167.9 348.1h.6M169.9 352.5h.6M172.7 352.3h.6M169.6 345.4h.6M162.3 350.5h.6M141.7 358.3h.6M162.7 345.9h.6M150.0 351.0h.6M166.3 347.7h.6M162.3 346.5h.6M159.4 349.6h.6M160.4 352.6h.6M164.7 350.5h.6M169.6 355.0h.6M171.3 350.9h.6M164.6 346.9h.6M163.0 352.7h.6M168.0 348.5h.6M154.3 344.0h.6M168.8 354.0h.6M169.3 344.6h.6M164.1 350.9h.6M157.9 351.4h.6M164.2 346.7h.6M155.1 353.2h.6M169.1 346.5h.6M157.1 353.5h.6M171.2 348.8h.6M180.0 348.9h.6M156.7 354.3h.6M164.3 351.3h.6M166.3 346.1h.6M155.6 349.2h.6M178.3 346.1h.6M177.9 350.9h.6M156.3 351.0h.6M171.0 346.5h.6M147.3 351.4h.6M156.3 351.7h.6M149.3 349.4h.6M158.9 344.2h.6M163.9 350.7h.6M161.1 345.4h.6M167.9 343.2h.6M170.7 351.9h.6M180.7 353.4h.6M169.1 351.0h.6M166.2 344.8h.6M178.8 352.0h.6M163.5 345.5h.6M179.0 352.1h.6M155.6 352.6h.6M182.6 349.9h.6M169.5 348.4h.6M160.5 354.2h.6M164.9 353.1h.6M163.3 352.8h.6M173.2 346.1h.6M156.6 349.7h.6M173.3 351.1h.6M176.8 344.7h.6M170.3 347.6h.6M166.9 351.2h.6M157.5 349.1h.6M155.8 351.0h.6M158.6 348.1h.6M167.9 347.5h.6M176.0 347.5h.6M173.4 351.1h.6M157.0 349.2h.6M158.7 348.6h.6M163.6 357.1h.6M162.3 356.1h.6M169.9 344.9h.6M145.8 352.6h.6M148.6 352.8h.6M175.0 351.5h.6M164.2 349.0h.6M168.3 348.8h.6M161.3 348.6h.6M176.2 347.6h.6M169.3 345.5h.6M159.8 344.7h.6M164.3 352.6h.6M168.7 348.1h.6M171.3 348.7h.6M169.2 351.1h.6M170.7 340.4h.6M154.7 353.0h.6M165.1 358.7h.6M164.0 347.9h.6M179.0 352.2h.6M182.5 352.0h.6M164.2 352.8h.6M159.1 348.3h.6M161.2 349.1h.6M172.8 348.1h.6M168.8 348.1h.6M173.7 339.3h.6M164.2 350.7h.6M156.6 353.9h.6M167.9 355.0h.6M174.4 352.5h.6M164.7 345.8h.6M164.1 348.2h.6M168.2 348.2h.6M176.2 348.2h.6M163.9 353.6h.6M166.0 345.3h.6M169.6 349.2h.6M148.1 350.8h.6M156.8 347.1h.6M170.2 351.2h.6M163.5 358.4h.6M169.6 347.6h.6M168.1 349.5h.6M146.8 343.9h.6M153.9 358.0h.6M164.4 348.9h.6M161.1 353.8h.6M166.2 356.6h.6M172.8 356.4h.6M165.0 351.4h.6M162.2 349.3h.6M151.0 347.8h.6M157.7 347.5h.6M176.6 351.0h.6M176.6 353.3h.6M174.0 353.9h.6M160.7 353.1h.6M163.2 348.0h.6M176.4 358.3h.6M157.5 356.7h.6M173.2 346.7h.6M168.4 351.4h.6M169.3 348.6h.6M154.9 350.1h.6M173.5 353.0h.6M171.7 354.2h.6M157.4 349.8h.6M169.0 353.9h.6M167.4 352.0h.6M167.2 358.1h.6M147.1 349.9h.6M187.5 350.9h.6M150.1 350.5h.6M153.6 347.4h.6M167.9 356.6h.6M170.0 352.6h.6M174.8 350.8h.6M158.6 349.6h.6M168.9 348.9h.6M160.2 348.6h.6M153.0 346.1h.6M165.2 348.6h.6M166.3 355.4h.6M168.6 349.9h.6M155.8 345.8h.6M169.3 346.6h.6M169.7 345.9h.6M167.2 349.7h.6M174.6 348.5h.6M162.8 350.9h.6M166.5 356.5h.6M163.8 347.9h.6M163.2 351.8h.6M168.0 352.7h.6M154.0 359.5h.6M181.9 349.9h.6M155.5 350.6h.6M169.6 341.4h.6M166.1 344.3h.6M170.0 355.3h.6M175.0 344.2h.6M178.0 353.5h.6M162.9 351.9h.6M179.1 348.7h.6M165.9 347.8h.6M176.0 341.7h.6M178.3 346.3h.6M174.0 343.7h.6M157.9 347.7h.6M173.2 343.8h.6M171.2 347.6h.6M176.8 348.8h.6M170.2 349.3h.6M181.5 348.6h.6M165.8 357.6h.6M166.7 352.6h.6M159.6 350.8h.6M146.4 350.4h.6M160.4 344.2h.6M153.7 354.4h.6M169.7 344.2h.6M181.7 347.3h.6M162.8 350.9h.6M156.2 343.8h.6M159.5 354.5h.6M174.2 343.9h.6M176.4 350.1h.6M170.3 350.2h.6M169.6 346.1h.6M158.1 347.3h.6M162.8 352.4h.6M155.5 356.1h.6M160.5 347.7h.6M172.1 351.7h.6M163.1 345.9h.6M157.3 343.8h.6M175.9 354.2h.6M182.2 351.9h.6M168.9 352.9h.6M174.2 349.0h.6M169.1 358.3h.6M151.3 344.6h.6M157.7 352.9h.6M176.3 348.7h.6M171.8 349.8h.6M168.6 347.9h.6M165.8 350.0h.6M175.8 358.6h.6M150.3 352.1h.6M166.0 353.7h.6M175.2 353.0h.6M173.0 346.3h.6M151.2 356.4h.6M176.5 346.3h.6M177.2 352.6h.6M144.7 353.5h.6M157.4 354.5h.6M160.1 347.1h.6M152.6 349.2h.6M174.8 347.4h.6M149.9 358.3h.6M182.0 352.7h.6M161.3 345.3h.6M151.8 352.2h.6M177.3 345.9h.6M166.0 348.9h.6M163.8 351.9h.6M184.1 347.5h.6M173.4 354.2h.6M163.5 349.4h.6M154.4 354.2h.6M161.4 347.5h.6M166.6 346.7h.6M157.0 348.9h.6M178.9 349.2h.6M170.6 344.3h.6M149.1 357.0h.6M162.5 344.1h.6M165.1 352.3h.6M151.0 346.6h.6M168.3 346.4h.6M172.9 353.7h.6M169.8 348.3h.6M165.6 347.6h.6M164.9 351.2h.6M163.4 353.8h.6M188.5 347.9h.6M169.0 353.2h.6M171.6 349.1h.6M161.8 353.9h.6M171.4 352.0h.6M159.0 352.4h.6M172.9 349.3h.6M171.6 358.4h.6M149.7 352.3h.6M155.8 344.7h.6M164.0 352.1h.6M166.5 345.5h.6M153.5 347.8h.6M166.1 346.8h.6M152.9 356.8h.6M158.7 349.4h.6M161.2 347.7h.6M166.3 348.8h.6M171.4 345.4h.6M153.1 357.5h.6M165.3 353.0h.6M176.3 352.1h.6M149.2 345.2h.6M139.7 356.3h.6M152.9 354.5h.6M139.4 342.7h.6M142.9 346.9h.6M149.9 347.5h.6M158.2 349.3h.6M145.7 355.8h.6M150.9 348.1h.6M153.8 360.4h.6M141.9 350.9h.6M142.7 343.5h.6M152.6 355.0h.6M154.7 353.9h.6M145.1 346.9h.6M142.6 355.3h.6M147.3 360.6h.6M151.7 343.7h.6M154.2 357.5h.6M149.2 346.7h.6M159.3 346.3h.6M148.5 343.7h.6M141.7 344.6h.6M155.4 357.2h.6M146.6 346.1h.6M148.6 353.7h.6M140.1 346.9h.6M148.4 355.1h.6M149.4 354.0h.6M141.7 341.1h.6M150.8 348.0h.6M148.3 350.3h.6M151.8 348.6h.6M157.5 352.1h.6M152.1 354.8h.6M155.1 353.8h.6M138.8 349.2h.6M159.9 354.1h.6M152.3 354.1h.6M145.2 349.0h.6M145.2 357.1h.6M151.1 359.8h.6M151.9 360.3h.6M151.7 346.8h.6M159.2 353.5h.6M156.0 352.9h.6M147.1 352.7h.6M142.4 346.7h.6M143.8 349.7h.6M141.0 351.5h.6M150.8 360.9h.6M159.8 351.8h.6M154.2 351.0h.6M151.3 351.9h.6M145.8 352.3h.6M140.3 353.9h.6M147.3 347.2h.6M146.9 354.4h.6M145.0 354.1h.6M152.4 358.9h.6M142.6 351.5h.6M152.0 358.6h.6M150.5 355.3h.6M140.3 349.4h.6M158.8 350.7h.6M161.8 348.8h.6M147.4 344.9h.6M152.8 353.2h.6M160.9 352.7h.6M147.5 345.8h.6M148.5 356.2h.6M153.4 357.5h.6M154.1 351.8h.6M152.6 352.8h.6M141.1 359.6h.6M151.2 347.3h.6M151.3 353.3h.6M154.9 358.4h.6M158.1 347.8h.6M151.0 353.6h.6M142.4 349.9h.6M150.2 355.3h.6M162.0 353.3h.6M145.4 341.5h.6M155.4 351.4h.6M148.3 347.6h.6M153.4 344.0h.6M149.6 352.5h.6M150.8 357.8h.6M148.4 352.4h.6M154.1 345.1h.6M147.3 352.3h.6M154.7 348.4h.6M153.8 353.7h.6M140.1 345.4h.6M140.5 352.6h.6M150.2 355.2h.6M153.9 349.5h.6M155.4 355.7h.6M151.8 354.1h.6M141.3 353.6h.6M142.8 346.7h.6M146.9 352.6h.6M148.7 350.5h.6M143.0 352.8h.6M144.6 345.7h.6M149.6 358.5h.6M146.6 347.2h.6M157.3 359.7h.6M147.2 351.1h.6M149.8 356.5h.6M151.6 343.9h.6M142.4 346.5h.6M151.6 352.5h.6M159.7 350.8h.6M150.8 352.3h.6M150.7 358.6h.6M156.8 349.3h.6M153.1 350.3h.6M149.7 352.7h.6M149.1 349.9h.6M158.3 350.8h.6M153.2 359.5h.6M152.7 356.6h.6M157.3 356.9h.6M159.3 345.6h.6M160.7 352.1h.6M140.7 351.9h.6M140.1 347.5h.6M150.8 352.7h.6M144.2 350.9h.6M148.4 352.3h.6M149.0 351.0h.6M154.3 344.8h.6M146.0 352.6h.6M146.6 349.5h.6M146.4 352.9h.6M156.5 351.2h.6M147.4 353.6h.6M147.5 343.3h.6M150.6 350.3h.6M145.6 354.8h.6M149.3 349.5h.6M149.1 351.5h.6M151.6 353.0h.6M146.1 346.3h.6M142.4 351.4h.6M142.1 355.4h.6M141.0 343.9h.6M147.8 344.0h.6M158.8 347.5h.6M148.7 350.9h.6M144.1 344.0h.6M155.1 361.7h.6M140.2 354.5h.6M148.9 355.8h.6M145.9 355.2h.6M154.4 354.7h.6M157.7 351.2h.6M158.3 348.8h.6M159.0 339.6h.6M149.1 348.4h.6M149.0 356.6h.6M153.3 352.4h.6M159.2 345.4h.6M144.1 358.8h.6M151.0 342.7h.6M151.0 346.7h.6M157.9 357.1h.6M145.7 357.8h.6M144.0 356.1h.6M152.5 351.4h.6M140.5 350.7h.6M143.2 341.1h.6M152.5 353.7h.6M146.0 361.5h.6M153.6 352.3h.6M145.1 338.7h.6M151.9 356.3h.6M145.4 345.6h.6M148.7 344.5h.6M149.0 355.5h.6M158.1 353.2h.6M150.2 355.4h.6M157.4 350.6h.6M141.6 348.4h.6M141.4 348.0h.6M148.3 353.5h.6M149.9 352.3h.6M146.9 353.9h.6M154.3 355.4h.6M158.0 350.7h.6M147.5 359.6h.6M150.2 353.9h.6M147.0 356.4h.6M146.6 347.5h.6M148.6 350.0h.6M154.0 350.3h.6M149.7 351.0h.6M151.0 349.2h.6M155.6 345.6h.6M146.7 348.8h.6M152.9 352.2h.6M151.9 350.5h.6M144.7 347.0h.6M147.0 349.6h.6M150.7 353.6h.6M154.9 351.5h.6M144.5 347.2h.6M149.4 353.6h.6M160.7 352.8h.6M159.5 360.4h.6M142.7 357.4h.6M155.8 358.1h.6M148.9 356.3h.6M146.1 351.7h.6M149.1 360.0h.6M147.7 356.3h.6M149.4 348.8h.6M150.5 355.0h.6M144.7 354.9h.6M144.7 348.1h.6M150.3 350.9h.6M143.1 344.7h.6M149.1 353.1h.6M146.2 352.8h.6M139.8 353.8h.6M151.5 353.3h.6M145.3 352.4h.6M149.8 356.8h.6M150.7 353.1h.6M144.7 355.9h.6M156.0 349.8h.6M152.8 353.4h.6M148.7 346.2h.6M159.5 343.6h.6M150.8 350.3h.6M155.9 350.1h.6M149.2 354.7h.6M151.7 349.7h.6M153.1 353.8h.6M154.9 349.7h.6M148.7 350.2h.6M144.0 353.1h.6M151.5 358.4h.6M147.1 353.7h.6M155.8 351.5h.6M149.4 352.6h.6M144.9 347.6h.6M155.7 352.8h.6M148.6 346.4h.6M149.7 357.3h.6M142.1 348.0h.6M155.6 358.4h.6M158.3 349.5h.6M152.6 348.6h.6M152.1 350.4h.6M150.2 358.0h.6M151.0 350.9h.6M149.3 353.2h.6M153.4 353.0h.6M167.8 359.8h.6M144.0 356.4h.6M161.6 357.7h.6M153.4 349.6h.6M164.4 349.1h.6M174.4 352.0h.6M154.2 356.6h.6M149.3 358.2h.6M172.5 352.7h.6M172.8 360.0h.6M177.8 352.0h.6M159.3 357.5h.6M141.0 349.0h.6M166.3 354.8h.6M184.0 360.7h.6M164.2 354.2h.6M143.0 351.1h.6M163.4 350.9h.6M160.8 355.0h.6M147.7 349.2h.6M146.4 343.6h.6M169.9 350.9h.6M172.4 350.2h.6M187.3 355.5h.6M161.9 352.6h.6M157.4 356.0h.6M185.7 349.9h.6M146.0 355.0h.6M173.7 344.6h.6M151.1 347.1h.6M167.2 354.5h.6M150.6 346.4h.6M168.8 341.8h.6M168.3 351.2h.6M184.6 356.9h.6M152.6 350.6h.6M156.4 348.4h.6M161.0 356.8h.6M140.7 350.9h.6M179.1 355.7h.6M149.6 348.0h.6M149.0 344.1h.6M174.7 352.3h.6M151.1 344.9h.6M155.1 349.5h.6M182.0 349.7h.6M161.5 357.3h.6M168.5 351.1h.6M167.7 349.9h.6M158.9 347.3h.6M148.5 344.7h.6M166.4 354.5h.6M162.2 355.8h.6M166.9 352.6h.6M148.7 354.9h.6M175.2 355.1h.6M175.9 349.7h.6M147.5 358.1h.6M152.5 353.2h.6M157.6 352.1h.6M156.5 349.4h.6M162.6 342.6h.6M148.4 346.5h.6M150.5 339.5h.6M167.3 360.0h.6M156.9 355.6h.6M167.7 345.9h.6M175.5 343.7h.6M152.7 350.2h.6M176.0 352.6h.6M158.4 348.1h.6M161.1 352.2h.6M169.3 358.8h.6M169.4 352.1h.6M158.1 359.8h.6M162.6 351.9h.6M182.9 359.7h.6M167.2 351.5h.6M151.9 357.2h.6M154.2 356.7h.6M150.0 352.5h.6M165.1 352.7h.6M163.0 353.9h.6M145.7 346.6h.6M158.1 360.8h.6M158.4 347.5h.6M151.6 352.2h.6M175.0 349.2h.6M167.1 352.9h.6M155.5 347.4h.6M158.1 348.5h.6M166.8 343.4h.6M174.3 355.7h.6M167.4 359.3h.6M167.7 343.7h.6M160.7 354.2h.6M151.3 346.5h.6M165.5 354.5h.6M154.6 350.8h.6" stroke="#444" stroke-opacity=".26" stroke-width=".6" fill="none"/>
<path d="M154.5 311.2V363.0M137.6 346.4H192" stroke="#c0c0c0" stroke-width=".8" fill="none"/>
<rect x="137.6" y="311.2" width="54.40" height="51.80" fill="none" stroke="#333" stroke-width="1.1"/>
<path d="M173.8 313.2V336M157.6 324.3H192" stroke="#2a2a2a" stroke-width=".9" fill="none"/>
<text x="167.70" y="322.2" font-size="6.8" text-anchor="middle">1</text>
<text x="176.30" y="322.2" font-size="6.8" text-anchor="start">12</text>
<text x="167.70" y="332" font-size="6.8" text-anchor="middle">35</text>
<text x="176.30" y="332" font-size="6.8" text-anchor="start">52</text>
</g>
<text x="154.5" y="373.6" font-size="9.5" text-anchor="start" textLength="18.9" lengthAdjust="spacingAndGlyphs">After</text>
<g class="q">
<rect x="233" y="311.2" width="52.30" height="51.80" fill="#fff"/>
<path filter="url(#bl)" d="M269.7 338.0h.6M270.9 340.0h.6M266.9 338.3h.6M275.1 339.1h.6M271.4 339.7h.6M268.5 337.3h.6M266.8 337.0h.6M271.6 339.7h.6M269.9 337.9h.6M272.0 339.4h.6M271.7 336.5h.6M269.6 335.7h.6M271.6 337.7h.6M269.3 340.5h.6M274.3 339.3h.6M271.7 338.9h.6M269.5 338.6h.6M275.8 337.7h.6M269.3 338.9h.6M273.3 339.7h.6M268.6 338.5h.6M270.3 337.3h.6M271.2 338.1h.6M273.3 339.2h.6M269.0 338.8h.6M270.1 338.0h.6M269.8 339.9h.6M270.0 336.7h.6M269.0 339.6h.6M276.4 337.5h.6M270.1 338.3h.6M267.4 339.2h.6M270.9 339.0h.6M276.7 338.4h.6M273.0 339.7h.6M269.4 338.0h.6M274.9 339.5h.6M271.4 337.4h.6M273.2 339.3h.6M276.6 340.4h.6M273.0 339.0h.6M271.2 338.1h.6M271.8 339.0h.6M272.6 340.0h.6M271.8 338.1h.6M273.0 340.5h.6M268.9 339.2h.6M272.4 339.3h.6M272.3 338.6h.6M270.7 340.7h.6M275.4 337.1h.6M264.6 339.2h.6M269.3 338.1h.6M267.0 339.1h.6M270.9 338.1h.6M273.3 341.5h.6M274.7 340.1h.6M270.0 339.5h.6M270.9 340.0h.6M272.5 338.7h.6M272.4 337.9h.6M273.0 340.5h.6M270.1 339.3h.6M266.8 339.8h.6M273.2 337.5h.6M275.4 338.8h.6M266.6 337.1h.6M273.2 338.4h.6M273.8 336.9h.6M270.8 339.8h.6M269.3 339.5h.6M270.1 339.1h.6M271.8 341.3h.6M267.9 339.6h.6M274.3 337.4h.6M271.2 341.4h.6M273.7 335.2h.6M270.4 336.7h.6M271.8 337.9h.6M269.6 337.7h.6M271.7 338.2h.6M268.7 338.4h.6M272.0 337.7h.6M273.8 336.8h.6M272.0 338.2h.6M275.0 338.0h.6M269.3 337.1h.6M276.0 339.4h.6M268.3 338.3h.6M268.6 340.5h.6M272.1 336.3h.6M271.5 339.8h.6M271.0 339.3h.6M270.7 338.9h.6M271.5 337.9h.6M271.9 338.9h.6M270.9 337.9h.6M268.4 339.0h.6M273.1 335.9h.6M269.6 340.3h.6M273.3 337.9h.6M274.4 337.5h.6M269.0 341.0h.6M269.9 338.4h.6M266.8 337.5h.6M268.0 338.5h.6M266.4 339.9h.6M270.1 338.0h.6M269.4 339.6h.6M274.9 338.2h.6M275.1 340.6h.6M274.4 339.0h.6M267.2 339.5h.6M270.0 338.9h.6M266.2 338.4h.6M271.6 337.6h.6M271.7 340.7h.6M271.6 337.9h.6M277.0 336.2h.6M268.7 339.2h.6M269.5 336.0h.6M271.7 339.7h.6M269.0 340.4h.6M272.3 340.1h.6M267.1 338.7h.6M275.0 341.1h.6M274.3 338.7h.6M271.5 338.0h.6M273.8 337.9h.6M271.3 336.3h.6M267.2 340.8h.6M271.1 339.0h.6M265.4 338.7h.6M276.2 337.0h.6M265.0 338.5h.6M269.7 338.5h.6M267.8 337.1h.6M267.9 339.5h.6M270.9 339.7h.6M268.3 339.4h.6M269.9 338.8h.6M273.4 338.7h.6M270.1 336.7h.6M271.2 339.6h.6M269.4 338.6h.6M266.5 337.1h.6M272.0 340.2h.6M270.2 336.7h.6M270.0 336.9h.6M270.3 341.0h.6M271.8 338.5h.6M273.6 338.3h.6M271.8 338.9h.6M272.1 337.0h.6M272.8 339.7h.6M265.2 335.5h.6M268.7 340.5h.6M271.1 339.5h.6M272.4 339.7h.6M269.4 338.0h.6M272.0 339.4h.6M272.5 339.1h.6M269.8 340.0h.6M272.2 340.0h.6M264.5 339.9h.6M264.8 338.9h.6M269.3 338.8h.6M269.8 338.3h.6M271.5 339.1h.6M269.0 335.7h.6M269.0 339.3h.6M268.8 339.2h.6M270.1 337.6h.6M274.0 340.7h.6M270.7 338.6h.6M273.5 337.1h.6M268.8 340.0h.6M273.3 338.1h.6M269.0 339.1h.6M267.4 338.1h.6M270.4 335.8h.6M272.5 339.6h.6M273.7 337.0h.6M267.7 337.7h.6M267.6 341.1h.6M268.5 338.3h.6M271.5 339.2h.6M274.7 337.4h.6M273.3 338.9h.6M268.0 338.9h.6M267.4 340.6h.6M269.1 339.9h.6M274.4 338.0h.6M268.7 338.9h.6M268.3 339.8h.6M271.5 337.8h.6M269.2 339.6h.6M267.3 340.7h.6M269.0 338.5h.6M268.6 340.6h.6M273.1 340.3h.6M272.7 338.8h.6M275.4 339.5h.6M272.1 339.4h.6M272.9 339.0h.6M270.6 336.8h.6M276.3 337.1h.6M265.4 337.8h.6M276.0 340.2h.6M269.4 339.0h.6M270.9 336.3h.6M270.1 339.0h.6M274.0 337.3h.6M265.2 336.8h.6M271.9 338.8h.6M271.4 338.9h.6M270.0 337.1h.6M272.2 339.2h.6M272.5 340.2h.6M267.8 335.9h.6M266.4 341.3h.6M268.6 339.2h.6M271.0 339.6h.6M279.3 338.1h.6M270.6 338.0h.6M271.6 339.3h.6M268.5 340.3h.6M274.0 339.2h.6M270.7 338.4h.6M266.7 339.5h.6M268.5 338.1h.6M273.6 337.6h.6M269.6 339.7h.6M275.8 337.9h.6M273.9 337.9h.6M272.0 339.3h.6M268.0 339.9h.6M275.7 338.8h.6M271.7 337.3h.6M275.6 338.8h.6M267.7 339.6h.6M267.2 337.9h.6M265.5 340.4h.6M276.7 337.9h.6M269.3 338.0h.6M269.5 339.4h.6M274.8 337.5h.6M272.1 336.5h.6M275.0 338.6h.6M269.2 340.5h.6M270.7 340.3h.6M273.8 340.7h.6M268.9 338.8h.6M272.0 338.5h.6M275.0 337.8h.6M273.6 340.3h.6M265.9 337.5h.6M268.7 338.0h.6M272.0 338.5h.6M271.2 338.1h.6M242.5 340.6h.6M247.1 336.5h.6M242.4 336.6h.6M242.0 334.4h.6M248.2 341.1h.6M242.3 336.8h.6M240.5 336.9h.6M234.5 344.2h.6M261.1 335.1h.6M236.6 340.9h.6M246.3 334.0h.6M240.3 339.3h.6M243.0 337.2h.6M242.2 338.0h.6M249.8 338.7h.6M242.8 337.3h.6M239.5 336.6h.6M243.1 344.9h.6M249.1 339.8h.6M252.2 342.2h.6M244.1 338.5h.6M237.0 339.8h.6M241.3 333.9h.6M235.9 345.2h.6M244.2 340.6h.6M244.1 337.5h.6M245.5 342.5h.6M241.3 340.6h.6M248.6 337.5h.6M243.9 336.6h.6M246.3 337.8h.6M249.3 336.6h.6M252.3 338.0h.6M238.4 336.1h.6M246.6 336.3h.6M252.9 343.1h.6M245.8 334.4h.6M242.9 336.7h.6M255.1 337.3h.6M247.5 343.1h.6M237.7 337.9h.6M244.5 340.5h.6M236.7 339.7h.6M242.4 342.0h.6M234.2 337.2h.6M240.2 338.0h.6M247.0 337.0h.6M258.1 336.7h.6M247.6 342.3h.6M248.3 338.3h.6M238.4 338.2h.6M246.7 339.4h.6M246.2 340.8h.6M238.1 336.0h.6M250.9 337.4h.6M234.3 344.9h.6M238.4 336.0h.6M248.3 335.4h.6M238.2 342.4h.6M238.5 347.0h.6M243.5 347.6h.6M243.7 339.2h.6M239.5 338.3h.6M240.2 338.9h.6M247.2 334.9h.6M238.0 332.3h.6M251.3 338.8h.6M242.9 338.8h.6M248.5 340.0h.6M247.7 338.5h.6M242.3 338.8h.6M234.3 335.8h.6M246.7 339.2h.6M247.5 344.5h.6M253.2 343.4h.6M241.8 345.6h.6M238.2 338.7h.6M248.5 338.3h.6M242.3 337.9h.6M250.5 331.1h.6M250.0 342.4h.6M242.6 340.8h.6M237.7 342.5h.6M259.8 336.1h.6M250.7 338.8h.6M241.1 337.4h.6M242.0 335.0h.6M235.5 344.3h.6M242.9 340.8h.6M244.7 340.5h.6M234.6 336.0h.6M246.5 342.2h.6M236.7 337.2h.6M237.1 341.1h.6M244.9 339.1h.6M239.4 340.1h.6M243.2 336.6h.6M244.8 336.9h.6M248.2 341.0h.6M239.2 340.9h.6M243.4 336.7h.6M238.0 333.7h.6M236.8 340.1h.6M249.6 337.0h.6M243.9 340.1h.6M247.3 340.4h.6M249.7 341.5h.6M238.8 340.3h.6M243.1 340.9h.6M241.3 341.7h.6M250.3 336.3h.6M240.0 339.8h.6M245.7 339.5h.6M247.6 335.2h.6M247.3 342.7h.6M249.1 340.4h.6M241.7 340.3h.6M242.6 333.9h.6M239.7 338.9h.6M240.2 336.0h.6M241.7 337.8h.6M243.4 338.8h.6M243.9 342.2h.6M243.8 340.3h.6M236.3 329.6h.6M240.8 341.2h.6M241.1 337.0h.6M236.2 341.9h.6M240.1 339.8h.6M249.2 340.7h.6M255.3 338.6h.6M248.3 341.2h.6M239.4 339.2h.6M239.9 335.7h.6M244.6 336.5h.6M252.2 336.6h.6M240.0 339.3h.6M240.1 339.2h.6M239.7 334.4h.6M251.4 340.4h.6M243.8 337.5h.6M242.2 340.0h.6M235.4 336.4h.6M238.1 343.0h.6M237.2 342.8h.6M240.4 347.7h.6M242.6 339.1h.6M250.4 341.8h.6M248.2 335.6h.6M249.2 344.4h.6M242.4 337.5h.6M237.0 342.3h.6M244.6 339.0h.6M236.2 344.2h.6M247.8 338.9h.6M251.1 336.0h.6M247.8 335.8h.6M250.8 338.1h.6M249.7 337.7h.6M245.2 342.7h.6M238.0 339.3h.6M238.4 341.7h.6M239.7 337.8h.6M241.9 342.7h.6M237.3 338.9h.6M241.2 337.2h.6M238.7 338.5h.6M244.1 334.0h.6M244.3 335.2h.6M243.1 346.3h.6M237.7 338.8h.6M241.6 342.1h.6M240.4 333.3h.6M234.1 339.6h.6M244.4 342.4h.6M240.0 341.1h.6M237.1 343.1h.6M242.6 336.8h.6M244.0 344.6h.6M238.3 335.0h.6M237.4 335.3h.6M242.7 340.1h.6M242.1 339.6h.6M249.5 338.1h.6M236.1 331.7h.6M244.3 336.8h.6M241.6 340.3h.6M245.5 334.0h.6M237.7 339.2h.6M242.2 342.7h.6M240.2 332.4h.6M249.4 333.8h.6M237.7 340.2h.6M237.2 347.0h.6M244.3 340.7h.6M240.6 346.1h.6M246.0 336.7h.6M249.9 333.6h.6M239.8 339.9h.6M243.8 335.9h.6M251.7 343.7h.6M237.9 340.2h.6M239.5 337.6h.6M248.4 339.4h.6M242.4 339.3h.6M236.6 342.9h.6M238.9 343.2h.6M240.5 337.5h.6M251.2 339.6h.6M239.5 337.3h.6M246.3 345.0h.6M246.4 337.7h.6M236.8 336.8h.6M242.3 339.8h.6M239.4 343.1h.6M237.7 336.7h.6M245.7 340.5h.6M240.9 342.1h.6M235.3 344.2h.6M255.0 345.2h.6M243.7 345.3h.6M243.3 343.3h.6M241.9 339.6h.6M245.9 333.4h.6M241.9 344.5h.6M248.1 340.0h.6M244.1 343.4h.6M244.8 332.9h.6M237.8 338.1h.6M243.8 337.6h.6M242.4 344.3h.6M248.2 340.9h.6M243.1 339.2h.6M245.0 339.8h.6M239.0 341.5h.6M238.5 338.9h.6M241.0 335.3h.6M246.3 338.8h.6M236.6 338.8h.6M235.4 343.6h.6M245.8 345.3h.6M239.9 341.3h.6M237.7 336.3h.6M242.5 340.3h.6M248.1 338.1h.6M249.1 342.1h.6M238.2 338.4h.6M238.0 344.4h.6M240.0 341.8h.6M248.0 338.2h.6M240.3 340.1h.6M238.8 335.0h.6M237.7 340.1h.6M244.1 344.6h.6M236.7 342.7h.6M246.8 339.4h.6M251.1 337.8h.6M240.1 335.6h.6M239.4 339.4h.6M246.7 343.1h.6M256.1 337.8h.6M255.7 338.4h.6M254.7 338.5h.6M251.9 339.2h.6M254.4 339.0h.6M248.4 339.6h.6M262.0 340.6h.6M254.2 337.0h.6M249.0 337.0h.6M253.5 338.7h.6M245.7 340.6h.6M247.3 337.9h.6M253.0 340.9h.6M270.8 338.6h.6M256.1 338.5h.6M256.6 339.0h.6M275.1 337.1h.6M257.2 337.7h.6M260.5 338.3h.6M262.0 337.2h.6M272.6 339.7h.6M245.7 340.7h.6M254.7 337.0h.6M261.1 338.3h.6M263.1 338.2h.6M264.3 339.6h.6M260.5 339.6h.6M255.5 338.6h.6M261.1 340.7h.6M255.2 343.7h.6M269.7 337.0h.6M265.5 339.2h.6M259.6 337.7h.6M269.4 337.7h.6M257.4 337.9h.6M271.4 341.8h.6M248.9 338.4h.6M260.5 338.5h.6M255.6 337.2h.6M259.7 337.1h.6M263.8 344.0h.6M255.7 342.5h.6M260.6 338.0h.6M255.6 337.4h.6M258.8 340.7h.6M264.4 338.8h.6M249.8 339.2h.6M269.6 339.9h.6M257.6 335.2h.6M255.0 340.4h.6M251.5 342.0h.6M254.1 337.6h.6M254.0 339.1h.6M264.9 338.2h.6M245.7 339.1h.6M261.6 342.3h.6M250.3 342.2h.6M262.7 340.2h.6M252.7 337.6h.6M251.4 341.1h.6M259.5 341.4h.6M270.5 339.3h.6M257.7 343.1h.6M249.0 338.4h.6M255.5 338.6h.6M259.0 337.7h.6M266.0 336.6h.6M252.4 336.0h.6M248.3 340.5h.6M262.3 338.9h.6M263.8 340.5h.6M254.0 339.2h.6M260.5 343.2h.6M255.0 340.0h.6M261.8 341.7h.6M260.9 341.4h.6M250.7 338.8h.6M244.7 339.2h.6M274.1 339.8h.6M258.6 339.8h.6M259.0 336.7h.6M253.2 339.0h.6M259.2 337.6h.6M257.3 337.9h.6M248.9 338.0h.6M252.5 341.0h.6M267.2 340.4h.6M256.5 338.2h.6M247.2 338.3h.6M268.8 341.6h.6M259.5 338.8h.6M258.0 340.1h.6M257.9 340.1h.6M252.7 339.4h.6M255.6 341.4h.6M249.5 341.8h.6M257.4 338.3h.6M258.1 339.6h.6M256.4 340.1h.6M254.0 336.0h.6M262.8 339.3h.6M269.5 340.1h.6M244.2 341.7h.6M253.3 340.4h.6M273.3 341.4h.6M250.5 339.1h.6M246.9 340.6h.6M261.9 337.3h.6M261.1 341.1h.6M263.6 338.0h.6M253.2 337.1h.6M249.1 339.9h.6M258.3 341.9h.6M259.9 338.7h.6M248.2 342.3h.6M259.1 339.3h.6M251.1 337.3h.6M262.4 337.4h.6M262.0 340.5h.6M255.4 336.2h.6M260.8 342.1h.6M252.3 336.9h.6M265.5 339.6h.6M253.7 341.7h.6M256.1 340.2h.6M255.2 337.9h.6M259.5 337.6h.6M245.8 338.3h.6M266.5 341.5h.6M272.9 341.2h.6M269.1 339.8h.6M255.0 340.2h.6M251.5 340.7h.6M254.9 339.8h.6M252.1 339.1h.6M264.7 338.9h.6M253.4 339.9h.6M264.1 339.0h.6M250.0 336.3h.6M248.8 341.4h.6M257.4 340.2h.6M265.4 339.9h.6M261.3 338.3h.6M246.9 340.5h.6M257.3 340.4h.6M250.7 339.0h.6M271.8 337.7h.6M258.7 341.9h.6M256.4 339.6h.6M243.4 340.8h.6M255.0 341.8h.6M257.4 338.6h.6M261.0 338.9h.6M254.5 342.3h.6M264.7 339.5h.6M263.5 340.9h.6M262.0 339.4h.6M258.5 340.1h.6M261.9 340.0h.6M254.2 339.2h.6M244.8 346.8h.6M243.0 356.1h.6M243.7 350.6h.6M242.9 349.5h.6M246.9 350.1h.6M236.5 345.7h.6M244.2 353.2h.6M241.2 345.1h.6M242.4 347.6h.6M240.4 352.1h.6M240.0 353.7h.6M240.1 349.6h.6M242.1 359.8h.6M249.2 357.1h.6M240.1 352.1h.6M246.6 356.3h.6M236.6 351.8h.6M240.1 356.0h.6M245.5 349.3h.6M251.4 350.6h.6M252.6 351.2h.6M240.9 349.6h.6M248.8 351.9h.6M244.9 345.5h.6M250.0 357.3h.6M244.4 355.8h.6M241.0 349.6h.6M236.8 354.0h.6M247.8 356.6h.6M246.6 355.8h.6M239.4 345.2h.6M245.5 353.0h.6M246.9 350.6h.6M239.5 354.4h.6M240.8 343.5h.6M240.6 347.5h.6M238.6 349.2h.6M249.8 349.9h.6M247.5 351.7h.6M244.6 348.5h.6M242.7 343.3h.6M250.0 348.1h.6M245.3 349.0h.6M244.1 345.9h.6M241.5 356.9h.6M245.3 341.9h.6M246.3 345.2h.6M244.1 354.8h.6M240.5 350.4h.6M242.0 354.2h.6M246.6 359.2h.6M239.3 361.4h.6M242.0 356.1h.6M242.5 352.5h.6M239.4 354.1h.6M250.9 352.9h.6M242.9 352.1h.6M245.8 351.0h.6M243.0 353.2h.6M248.1 357.1h.6M238.9 348.8h.6M243.1 356.5h.6M246.8 351.0h.6M251.3 351.2h.6M248.5 359.5h.6M249.2 353.1h.6M245.3 344.1h.6M236.0 348.9h.6M245.8 357.7h.6M242.6 357.5h.6M245.3 360.1h.6M236.8 347.8h.6M239.3 346.6h.6M249.5 347.3h.6M239.8 350.0h.6M246.5 349.7h.6M245.9 355.0h.6M240.5 339.7h.6M239.4 345.6h.6M249.4 348.3h.6M238.8 354.1h.6M243.2 347.2h.6M247.3 356.9h.6M244.1 348.1h.6M239.6 341.4h.6M244.5 354.1h.6M239.4 352.2h.6M255.8 346.2h.6M236.3 355.3h.6M241.3 349.5h.6M245.4 351.4h.6M246.9 354.8h.6M247.6 352.7h.6M234.5 359.2h.6M236.3 357.5h.6M244.0 344.8h.6M243.3 356.7h.6M239.0 352.3h.6M240.1 346.8h.6M240.6 358.7h.6M245.7 351.9h.6M242.7 352.7h.6M244.1 353.0h.6M236.3 356.9h.6M239.6 338.5h.6M245.8 345.8h.6M242.4 351.6h.6M240.7 354.9h.6M241.9 350.6h.6M239.3 350.6h.6" stroke="#444" stroke-opacity=".26" stroke-width=".6" fill="none"/>
<path d="M250 311.2V363.0M233 346H285.3" stroke="#c0c0c0" stroke-width=".8" fill="none"/>
<rect x="233" y="311.2" width="52.30" height="51.80" fill="none" stroke="#333" stroke-width="1.1"/>
<path d="M267.9 313.2V336M252.6 324.3H283.2" stroke="#2a2a2a" stroke-width=".9" fill="none"/>
<text x="261.90" y="322.2" font-size="6.8" text-anchor="middle">27</text>
<text x="269.80" y="322.2" font-size="6.8" text-anchor="start">49</text>
<text x="261.90" y="332" font-size="6.8" text-anchor="middle">20</text>
<text x="269.80" y="332" font-size="6.8" text-anchor="start">7</text>
</g>
<text x="245.5" y="373.6" font-size="9.5" text-anchor="start" textLength="26.5" lengthAdjust="spacingAndGlyphs">Before</text>
<g class="q">
<rect x="292.7" y="311.2" width="52.50" height="51.80" fill="#fff"/>
<path filter="url(#bl)" d="M309.9 349.7h.6M320.3 352.4h.6M316.4 345.6h.6M319.0 352.2h.6M323.6 343.1h.6M314.6 348.6h.6M319.3 346.4h.6M312.8 356.2h.6M318.9 343.8h.6M314.6 353.4h.6M311.8 351.2h.6M314.9 345.4h.6M311.7 352.8h.6M319.7 347.8h.6M319.5 347.5h.6M315.6 349.5h.6M309.0 350.4h.6M312.8 341.7h.6M310.8 347.1h.6M310.8 346.7h.6M311.5 342.5h.6M318.4 349.7h.6M315.6 348.8h.6M314.8 348.8h.6M309.7 345.2h.6M314.8 352.4h.6M315.5 354.1h.6M308.5 348.8h.6M311.8 353.0h.6M322.0 348.0h.6M317.7 348.8h.6M310.1 349.2h.6M309.9 354.0h.6M317.1 352.9h.6M316.1 342.6h.6M318.1 349.8h.6M303.9 349.8h.6M319.0 354.4h.6M310.0 351.8h.6M316.0 349.0h.6M313.2 351.0h.6M317.1 351.4h.6M312.7 345.7h.6M320.3 353.2h.6M312.0 349.4h.6M318.1 344.5h.6M316.7 356.5h.6M315.7 347.5h.6M323.5 349.5h.6M315.4 348.3h.6M315.3 344.4h.6M308.8 345.3h.6M318.5 349.2h.6M319.6 343.7h.6M311.8 353.7h.6M311.0 344.2h.6M311.2 348.5h.6M314.4 353.3h.6M320.4 354.0h.6M317.1 348.1h.6M312.3 345.3h.6M320.1 353.1h.6M314.9 346.9h.6M317.5 350.9h.6M315.2 346.2h.6M315.6 347.9h.6M317.8 351.2h.6M316.4 348.3h.6M321.2 351.7h.6M320.1 351.9h.6M317.4 350.6h.6M309.8 344.3h.6M310.4 351.3h.6M318.5 350.0h.6M314.9 354.8h.6M312.7 344.4h.6M307.7 348.6h.6M317.6 351.6h.6M313.5 351.9h.6M314.3 347.4h.6M312.8 351.7h.6M318.7 346.3h.6M310.1 349.9h.6M323.9 346.1h.6M309.0 350.7h.6M316.7 347.7h.6M314.4 350.9h.6M306.8 349.4h.6M317.2 352.2h.6M319.6 349.3h.6M308.1 353.4h.6M317.9 347.7h.6M319.1 352.5h.6M313.9 342.7h.6M312.4 347.3h.6M310.8 349.3h.6M309.7 350.6h.6M322.8 346.1h.6M319.1 348.0h.6M316.9 349.1h.6M320.2 347.5h.6M317.7 347.3h.6M315.5 349.5h.6M319.3 345.0h.6M308.6 353.5h.6M316.2 354.4h.6M310.0 350.1h.6M317.2 354.6h.6M314.3 348.2h.6M317.7 349.2h.6M311.2 351.7h.6M306.1 346.6h.6M320.5 348.1h.6M313.1 350.6h.6M319.4 351.0h.6M310.3 347.9h.6M319.1 349.2h.6M311.7 352.0h.6M319.5 355.8h.6M309.8 347.5h.6M311.5 350.5h.6M312.4 352.7h.6M302.7 352.3h.6M311.7 348.7h.6M317.0 350.1h.6M310.0 353.8h.6M317.0 348.1h.6M315.4 346.3h.6M309.1 348.6h.6M316.1 349.8h.6M311.1 345.5h.6M307.1 354.1h.6M316.1 347.2h.6M319.7 351.1h.6M312.7 347.7h.6M319.5 350.4h.6M321.7 350.5h.6M311.9 347.8h.6M311.4 350.2h.6M315.6 351.2h.6M316.5 346.5h.6M313.6 346.8h.6M316.6 345.7h.6M312.0 347.0h.6M311.8 348.8h.6M321.1 348.8h.6M308.2 348.6h.6M317.8 351.1h.6M315.6 355.2h.6M319.4 349.8h.6M319.8 345.6h.6M313.8 347.0h.6M315.3 354.2h.6M312.3 354.1h.6M310.0 353.6h.6M307.1 347.1h.6M318.9 349.2h.6M315.1 349.5h.6M315.3 349.0h.6M310.2 348.7h.6M315.0 346.9h.6M316.5 354.6h.6M307.3 347.9h.6M313.3 349.6h.6M314.9 347.4h.6M314.4 349.5h.6M314.1 353.9h.6M315.1 345.2h.6M307.6 351.2h.6M313.0 347.7h.6M308.6 348.6h.6M314.1 347.5h.6M313.0 352.1h.6M317.9 351.1h.6M313.7 345.6h.6M317.9 353.8h.6M320.1 352.9h.6M315.7 350.6h.6M314.4 353.1h.6M313.3 355.7h.6M317.9 348.6h.6M314.5 344.9h.6M311.3 348.6h.6M325.2 347.2h.6M318.5 349.7h.6M313.2 351.3h.6M305.8 352.2h.6M323.0 350.4h.6M314.2 350.0h.6M317.4 348.1h.6M315.0 351.0h.6M313.0 350.6h.6M316.0 351.6h.6M310.2 348.0h.6M312.6 352.9h.6M315.6 344.7h.6M308.9 355.1h.6M316.0 345.8h.6M310.5 349.9h.6M320.7 354.2h.6M312.9 348.6h.6M322.9 346.7h.6M321.3 350.5h.6M314.9 353.2h.6M316.6 347.1h.6M307.8 349.5h.6M316.7 353.4h.6M303.1 353.4h.6M317.2 353.9h.6M318.0 350.1h.6M316.4 350.6h.6M311.8 349.2h.6M315.1 348.2h.6M308.1 345.3h.6M316.7 351.0h.6M315.0 346.1h.6M318.2 348.4h.6M305.4 354.0h.6M308.0 356.0h.6M316.8 348.2h.6M304.2 347.5h.6M321.0 353.4h.6M315.6 344.6h.6M312.8 348.7h.6M316.5 349.1h.6M316.0 344.8h.6M311.7 353.7h.6M308.2 352.2h.6M324.6 351.4h.6M308.4 353.1h.6M306.4 350.5h.6M312.7 353.1h.6M319.7 350.0h.6M322.3 352.3h.6M312.4 346.7h.6M325.3 348.3h.6M316.3 349.2h.6M312.4 344.9h.6M313.9 349.2h.6M318.8 348.0h.6M307.7 346.4h.6M314.3 350.2h.6M317.7 348.4h.6M316.9 349.9h.6M321.9 349.3h.6M315.1 351.1h.6M319.8 346.8h.6M312.4 348.7h.6M305.2 353.3h.6M319.2 349.6h.6M329.2 353.2h.6M323.3 354.0h.6M318.5 345.4h.6M321.2 350.7h.6M309.3 349.7h.6M317.8 352.3h.6M315.3 348.0h.6M317.8 347.3h.6M314.2 351.7h.6M308.2 350.6h.6M305.9 346.8h.6M309.1 349.2h.6M317.6 349.4h.6M318.5 349.8h.6M313.6 350.9h.6M313.5 349.9h.6M319.1 347.9h.6M319.5 346.3h.6M313.5 344.5h.6M312.2 354.1h.6M316.1 353.2h.6M308.1 346.6h.6M316.5 351.9h.6M318.2 344.7h.6M316.7 349.3h.6M315.0 350.9h.6M313.3 344.6h.6M309.8 345.3h.6M308.7 349.1h.6M320.2 347.4h.6M311.2 346.2h.6M306.9 349.7h.6M312.4 348.8h.6M310.3 350.9h.6M309.2 351.1h.6M311.6 351.8h.6M310.6 350.8h.6M316.4 349.3h.6M321.7 350.0h.6M310.6 351.5h.6M310.9 347.9h.6M314.6 350.0h.6M322.0 344.4h.6M313.4 352.8h.6M313.8 350.4h.6M321.2 345.9h.6M314.7 351.8h.6M311.9 344.4h.6M310.1 350.1h.6M315.3 354.8h.6M320.3 345.0h.6M319.0 352.2h.6M321.6 349.1h.6M312.1 349.9h.6M321.3 351.3h.6M321.9 351.8h.6M311.9 346.6h.6M322.6 345.1h.6M313.0 348.6h.6M310.5 347.8h.6M314.5 356.4h.6M314.2 348.0h.6M315.0 352.2h.6M310.9 348.3h.6M306.8 351.5h.6M317.5 353.9h.6M309.2 355.8h.6M318.3 348.7h.6M312.8 348.6h.6M309.2 351.7h.6M311.8 347.4h.6M316.8 349.8h.6M311.9 348.8h.6M312.3 353.4h.6M318.9 347.4h.6M314.3 353.5h.6M313.2 354.7h.6M316.5 351.4h.6M305.4 352.0h.6M316.0 351.2h.6M316.6 351.0h.6M312.3 352.1h.6M314.8 346.5h.6M310.0 350.0h.6M316.0 343.1h.6M305.4 352.6h.6M314.4 357.8h.6M307.8 348.8h.6M311.9 351.1h.6M320.7 354.2h.6M310.1 353.1h.6M309.2 350.4h.6M315.3 351.3h.6M311.0 353.4h.6M314.2 349.4h.6M313.3 346.4h.6M317.7 350.5h.6M316.5 354.9h.6M310.7 348.7h.6M314.5 352.0h.6M313.7 352.2h.6M316.5 344.4h.6M311.5 343.6h.6M313.2 348.3h.6M317.1 350.0h.6M314.2 353.2h.6M317.1 345.9h.6M311.5 350.5h.6M322.0 348.9h.6M313.8 350.3h.6M317.9 349.2h.6M315.8 348.3h.6M312.1 347.2h.6M317.4 347.9h.6M316.9 350.7h.6M318.8 341.7h.6M310.3 345.9h.6M313.8 351.8h.6M325.6 354.0h.6M320.5 350.6h.6M312.8 351.1h.6M304.9 352.2h.6M314.5 351.3h.6M310.0 346.3h.6M311.7 349.4h.6M316.0 348.5h.6M316.0 351.5h.6M309.4 349.2h.6M307.7 347.9h.6M318.5 347.4h.6M322.7 351.0h.6M318.4 349.8h.6M318.3 352.7h.6M315.0 348.0h.6M312.1 355.1h.6M313.7 348.2h.6M311.4 344.6h.6M312.3 350.4h.6M312.4 347.3h.6M316.3 350.8h.6M312.6 350.4h.6M310.2 352.0h.6M310.2 348.5h.6M315.1 348.3h.6M309.5 355.6h.6M321.2 344.4h.6M315.0 345.8h.6M315.9 345.7h.6M317.1 351.1h.6M322.0 353.0h.6M312.5 352.3h.6M312.5 349.2h.6M312.3 344.4h.6M317.2 343.6h.6M313.5 351.0h.6M315.0 344.9h.6M311.6 351.5h.6M319.3 354.2h.6M306.5 350.8h.6M312.4 351.7h.6M307.1 349.1h.6M317.6 347.6h.6M312.9 346.6h.6M319.4 345.6h.6M310.5 348.5h.6M313.1 355.7h.6M315.7 347.1h.6M317.1 350.5h.6M315.7 349.3h.6M316.5 346.1h.6M309.2 348.3h.6M309.6 351.5h.6M323.0 353.1h.6M316.5 350.5h.6M311.5 345.7h.6M316.9 345.2h.6M315.8 349.1h.6M317.8 349.6h.6M315.0 347.8h.6M306.9 348.5h.6M317.6 352.6h.6M320.6 346.6h.6M310.4 351.5h.6M312.5 357.0h.6M315.9 345.1h.6M312.1 354.1h.6M306.5 349.9h.6M308.4 354.2h.6M312.5 346.5h.6M307.0 347.4h.6M303.3 348.1h.6M324.1 349.8h.6M313.3 346.1h.6M316.0 348.1h.6M310.8 353.5h.6M316.4 346.9h.6M321.0 349.3h.6M316.7 349.9h.6M319.7 351.3h.6M313.0 351.6h.6M312.8 349.9h.6M321.7 346.4h.6M309.9 348.3h.6M312.3 353.3h.6M307.5 356.2h.6M321.5 348.2h.6M315.3 348.4h.6M317.5 351.4h.6M317.8 351.7h.6M323.0 349.0h.6M317.6 349.0h.6M314.7 350.1h.6M314.3 350.5h.6M310.8 349.1h.6M311.8 346.1h.6M311.4 348.0h.6M313.8 344.9h.6M313.4 346.2h.6M310.9 350.1h.6M319.4 350.3h.6M312.3 348.2h.6M320.4 344.7h.6M319.5 345.1h.6M311.7 349.6h.6M313.5 354.4h.6M316.7 349.4h.6M318.7 349.6h.6M311.0 352.8h.6M321.1 353.2h.6M309.3 355.1h.6M312.7 351.7h.6M319.8 356.5h.6M307.4 346.5h.6M319.7 350.9h.6M313.1 340.9h.6M316.4 349.0h.6M303.0 357.3h.6M303.5 347.9h.6M314.5 350.2h.6M317.8 348.7h.6M310.5 348.4h.6M305.2 346.2h.6M323.2 347.5h.6M314.1 355.1h.6M319.1 349.9h.6M317.7 348.7h.6M310.5 352.4h.6M315.1 354.2h.6M313.3 348.4h.6M316.0 348.9h.6M313.1 346.9h.6M315.6 350.4h.6M322.6 349.4h.6M306.8 350.9h.6M324.6 348.2h.6M311.0 349.0h.6M301.9 348.5h.6M313.7 345.1h.6M317.0 346.9h.6M306.3 347.4h.6M317.3 355.1h.6M320.0 350.1h.6M312.2 348.7h.6M318.8 348.0h.6M316.3 352.3h.6M310.5 347.8h.6M316.5 349.5h.6M314.0 347.9h.6M314.2 354.9h.6M320.5 344.8h.6M314.4 351.4h.6M314.3 344.9h.6M312.9 351.7h.6M308.3 352.4h.6M314.8 352.7h.6M312.6 349.0h.6M315.5 355.8h.6M321.5 350.7h.6M310.1 355.7h.6M318.5 354.9h.6M311.7 347.2h.6M315.6 348.2h.6M323.6 354.8h.6M295.8 353.9h.6M325.1 355.6h.6M310.1 347.2h.6M322.1 355.5h.6M314.5 345.9h.6M301.3 352.2h.6M307.1 348.0h.6M317.7 355.6h.6M296.8 348.0h.6M324.8 350.8h.6M311.1 353.8h.6M304.5 345.6h.6M314.2 357.9h.6M322.5 351.0h.6M322.4 349.2h.6M304.2 343.6h.6M316.3 355.0h.6M317.1 350.8h.6M310.7 355.8h.6M313.6 344.7h.6M325.4 348.1h.6M317.3 351.0h.6M322.8 352.1h.6M324.2 351.9h.6M310.2 348.8h.6M319.4 347.3h.6M321.7 349.9h.6M306.3 347.2h.6M312.8 358.8h.6M320.4 351.1h.6M306.4 359.4h.6M311.7 351.0h.6M310.5 356.9h.6M315.5 349.0h.6M315.5 346.6h.6M305.2 350.3h.6M330.6 346.1h.6M312.8 344.0h.6M315.4 351.9h.6M320.2 345.1h.6M309.0 348.1h.6M311.9 361.1h.6M312.3 350.8h.6M309.8 354.5h.6M335.4 356.1h.6M326.8 346.3h.6M322.8 351.1h.6M324.4 355.7h.6M319.5 343.6h.6M315.1 348.8h.6M317.7 351.2h.6M322.8 343.9h.6M307.8 350.7h.6M316.7 349.2h.6M313.8 351.2h.6M322.8 350.5h.6M316.0 343.0h.6M317.0 340.8h.6M317.4 350.6h.6M314.0 347.8h.6M310.5 354.7h.6M317.0 350.9h.6M309.9 351.9h.6M324.0 350.9h.6M310.9 345.8h.6M314.8 346.9h.6M302.0 354.8h.6M308.8 342.0h.6M308.0 359.1h.6M313.1 345.1h.6M304.8 354.2h.6M317.4 351.9h.6M312.4 353.1h.6M326.9 353.2h.6M312.6 344.8h.6M317.7 357.9h.6M319.4 345.4h.6M315.5 356.7h.6M308.7 353.2h.6M324.1 358.2h.6M300.7 343.3h.6M317.1 354.1h.6M311.0 350.9h.6M310.6 356.3h.6M295.5 352.1h.6M303.3 348.0h.6M301.2 347.0h.6M313.8 351.1h.6M329.0 350.0h.6M316.9 352.6h.6M316.2 357.5h.6M315.2 351.7h.6M313.1 351.0h.6M313.5 355.4h.6M314.2 351.3h.6M313.6 354.4h.6M310.0 355.2h.6M309.2 354.1h.6M330.1 352.0h.6M313.3 345.8h.6M320.2 351.1h.6M321.6 348.1h.6M318.4 359.0h.6M317.4 349.6h.6M303.1 351.0h.6M319.5 353.7h.6M304.6 346.4h.6M305.8 346.5h.6M311.7 352.2h.6M330.1 351.9h.6M326.2 343.7h.6M326.9 354.5h.6M317.7 354.7h.6M319.2 359.5h.6M320.8 343.3h.6M299.3 358.2h.6M313.3 356.9h.6M311.1 348.1h.6M311.1 352.4h.6M315.6 348.3h.6M318.5 353.7h.6M306.3 346.1h.6M297.5 349.6h.6M314.1 347.9h.6M308.9 350.4h.6M314.2 353.5h.6M321.0 352.9h.6M323.4 346.7h.6M319.1 352.7h.6M305.2 348.0h.6M317.7 351.3h.6M303.5 348.5h.6M326.8 354.7h.6M314.7 357.0h.6M306.4 350.2h.6M322.0 349.5h.6M304.6 353.6h.6M327.5 339.7h.6M315.3 345.4h.6M311.5 344.7h.6M335.8 348.0h.6M314.4 347.9h.6M305.7 349.0h.6M315.7 358.8h.6M316.4 358.0h.6M305.1 351.3h.6M310.3 344.0h.6M316.1 347.6h.6M309.2 346.4h.6M322.6 349.2h.6M312.8 351.8h.6M303.7 352.0h.6M312.6 353.0h.6M310.8 351.2h.6M318.4 355.3h.6M308.2 355.3h.6M305.7 350.2h.6M315.1 351.6h.6M312.5 355.1h.6M308.1 357.7h.6M298.9 351.3h.6M318.5 351.1h.6M316.2 355.2h.6M307.2 353.6h.6M322.9 350.0h.6M294.6 345.7h.6M306.8 346.3h.6M317.6 347.4h.6M334.8 353.5h.6M303.0 349.7h.6M326.8 354.0h.6M305.4 355.6h.6M310.0 360.8h.6M309.4 353.7h.6M318.7 349.0h.6M312.7 356.2h.6M318.2 350.7h.6M317.7 358.8h.6M321.8 353.1h.6M316.8 344.0h.6M315.1 348.8h.6M320.2 348.3h.6M317.8 346.3h.6M321.5 347.8h.6M313.8 353.6h.6M311.3 351.0h.6M322.9 358.9h.6M298.8 347.0h.6M319.7 355.2h.6M310.0 351.4h.6M312.4 361.1h.6M312.3 345.7h.6M301.0 345.3h.6M324.9 349.3h.6M330.4 353.8h.6M317.2 353.9h.6M320.6 355.1h.6M305.8 348.5h.6M309.4 351.5h.6M311.9 345.5h.6M308.2 358.9h.6M331.8 347.2h.6M317.2 350.8h.6M306.9 354.2h.6M313.4 358.4h.6M317.8 349.6h.6M321.1 347.8h.6M321.4 354.0h.6M299.2 350.1h.6M316.7 354.4h.6M315.3 350.9h.6M311.1 349.7h.6M314.0 346.3h.6M319.4 349.6h.6M318.4 348.7h.6M317.4 351.6h.6M321.5 353.1h.6M321.8 350.3h.6M313.5 349.8h.6M303.5 350.4h.6M323.1 354.4h.6M306.9 352.3h.6M320.3 345.0h.6M316.9 352.5h.6M320.3 352.1h.6M299.4 342.0h.6M330.7 349.2h.6M324.7 356.6h.6M314.7 345.9h.6M325.5 350.8h.6M318.4 353.1h.6M322.0 355.5h.6M302.1 344.7h.6M315.2 351.0h.6M320.5 350.4h.6M312.5 360.0h.6M325.5 356.1h.6M322.7 347.5h.6M313.3 350.7h.6M304.8 347.1h.6M315.4 345.6h.6M318.6 353.1h.6M312.0 349.5h.6M319.1 353.1h.6M317.1 345.6h.6M300.4 360.1h.6M308.5 349.4h.6M298.7 347.5h.6M307.8 354.5h.6M310.5 348.8h.6M307.5 349.0h.6M300.8 352.2h.6M324.0 351.7h.6M309.5 356.6h.6M318.1 346.4h.6M309.2 348.3h.6M313.6 356.4h.6M308.1 350.4h.6M314.9 345.7h.6M310.0 353.7h.6M323.5 342.7h.6M319.9 349.7h.6M324.8 353.8h.6M330.5 352.4h.6M310.7 347.3h.6M302.0 353.5h.6M318.3 354.6h.6M316.9 344.4h.6M310.6 349.9h.6M315.3 354.4h.6M325.9 352.3h.6M296.7 346.5h.6M296.1 347.6h.6M303.9 352.1h.6M312.1 355.9h.6M323.1 349.0h.6M321.9 351.1h.6M317.8 357.0h.6M304.4 350.7h.6M326.9 347.6h.6M315.8 351.6h.6M310.5 345.2h.6M308.2 346.7h.6M323.1 352.1h.6M319.9 345.8h.6M318.2 351.6h.6M322.8 347.8h.6M320.8 357.1h.6M329.1 346.9h.6M304.6 344.5h.6M322.1 353.6h.6M316.9 347.2h.6M324.5 358.1h.6M313.7 350.5h.6M324.0 353.2h.6M325.3 349.2h.6M316.9 349.5h.6M309.2 349.7h.6M311.6 353.2h.6M311.5 351.3h.6M307.2 345.6h.6M326.0 346.7h.6M329.2 355.1h.6M294.8 348.2h.6M310.5 351.1h.6M312.5 348.3h.6M324.5 350.4h.6M322.1 348.0h.6M308.2 356.9h.6M311.6 346.2h.6M312.6 355.6h.6M312.7 347.8h.6M319.4 355.3h.6M312.3 349.6h.6M312.4 358.7h.6M312.8 352.8h.6M296.9 351.8h.6M314.5 349.6h.6M310.6 345.0h.6M301.5 351.7h.6M308.6 350.6h.6M312.5 348.8h.6M307.9 359.2h.6M304.8 348.8h.6M311.5 345.9h.6M306.0 354.8h.6M321.8 351.6h.6M341.2 354.6h.6M324.4 347.4h.6M323.1 358.4h.6M310.8 359.0h.6M307.3 346.0h.6M313.6 347.5h.6M319.4 346.1h.6M314.7 342.4h.6M313.8 355.6h.6M311.8 352.4h.6M323.2 346.2h.6M303.4 351.4h.6M316.4 349.8h.6M305.9 356.3h.6M304.3 349.9h.6M313.7 354.2h.6M310.3 347.4h.6M330.9 347.3h.6M320.7 350.3h.6M310.0 350.8h.6" stroke="#444" stroke-opacity=".26" stroke-width=".6" fill="none"/>
<path d="M309.4 311.2V363.0M292.7 346.9H345.2" stroke="#c0c0c0" stroke-width=".8" fill="none"/>
<rect x="292.7" y="311.2" width="52.50" height="51.80" fill="none" stroke="#333" stroke-width="1.1"/>
<path d="M326.4 313.2V336M311.4 324.3H342.6" stroke="#2a2a2a" stroke-width=".9" fill="none"/>
<text x="319.00" y="322.2" font-size="6.8" text-anchor="middle">2</text>
<text x="328.70" y="322.2" font-size="6.8" text-anchor="start">14</text>
<text x="319.00" y="332" font-size="6.8" text-anchor="middle">18</text>
<text x="328.70" y="332" font-size="6.8" text-anchor="start">66</text>
</g>
<text x="307" y="373.6" font-size="9.5" text-anchor="start" textLength="18.9" lengthAdjust="spacingAndGlyphs">After</text>
<g class="q">
<rect x="389.8" y="311.2" width="53.20" height="51.80" fill="#fff"/>
<path filter="url(#bl)" d="M429.6 345.1h.6M424.2 343.9h.6M430.4 340.6h.6M429.3 352.2h.6M434.6 346.3h.6M430.8 342.9h.6M433.5 342.4h.6M428.3 346.4h.6M427.9 341.2h.6M433.6 338.4h.6M430.1 344.4h.6M430.8 338.9h.6M429.7 342.8h.6M434.8 347.5h.6M428.4 347.1h.6M431.8 343.6h.6M429.6 343.0h.6M426.6 341.8h.6M432.4 349.1h.6M434.6 342.7h.6M431.7 335.5h.6M429.6 339.6h.6M432.2 338.2h.6M427.7 340.1h.6M431.1 346.9h.6M428.0 350.3h.6M430.6 341.1h.6M431.0 344.0h.6M432.2 345.2h.6M435.4 348.1h.6M428.7 346.8h.6M432.0 340.5h.6M428.4 341.2h.6M424.4 346.2h.6M429.7 348.3h.6M428.9 344.3h.6M431.9 347.4h.6M431.0 340.3h.6M435.4 347.1h.6M433.4 349.7h.6M433.5 345.5h.6M431.3 346.2h.6M426.7 346.9h.6M427.9 345.5h.6M427.8 346.5h.6M429.1 352.7h.6M430.7 345.8h.6M428.1 343.0h.6M430.1 343.0h.6M429.2 340.9h.6M432.0 342.7h.6M428.3 345.3h.6M428.3 343.4h.6M429.0 340.8h.6M429.7 341.1h.6M427.3 345.2h.6M429.5 338.9h.6M429.3 344.7h.6M431.2 345.3h.6M430.8 346.1h.6M429.0 341.2h.6M431.7 342.6h.6M430.2 346.3h.6M432.4 348.3h.6M428.6 342.7h.6M431.5 339.0h.6M427.2 346.1h.6M428.8 340.8h.6M432.1 345.9h.6M432.4 342.8h.6M429.5 342.8h.6M430.9 336.9h.6M428.6 346.5h.6M428.4 343.8h.6M430.5 345.8h.6M429.1 340.0h.6M436.1 341.5h.6M434.3 337.8h.6M430.5 343.3h.6M434.7 351.1h.6M432.5 340.5h.6M428.3 341.4h.6M429.0 344.9h.6M428.4 343.1h.6M433.7 349.0h.6M425.8 340.7h.6M429.3 348.5h.6M429.4 350.7h.6M431.1 349.0h.6M428.2 342.9h.6M432.6 346.0h.6M425.8 343.0h.6M430.6 346.2h.6M428.7 350.1h.6M430.6 349.1h.6M431.2 344.3h.6M429.5 339.9h.6M432.3 346.7h.6M432.4 342.7h.6M427.9 342.7h.6M429.5 344.0h.6M432.5 340.8h.6M429.1 346.4h.6M432.4 351.7h.6M431.5 341.0h.6M427.8 341.2h.6M430.4 344.9h.6M430.1 341.9h.6M429.8 343.7h.6M431.6 344.3h.6M428.3 339.9h.6M433.7 343.7h.6M429.8 343.9h.6M432.9 342.9h.6M430.6 343.2h.6M431.6 340.5h.6M430.7 347.6h.6M433.0 346.2h.6M430.9 349.5h.6M431.9 348.9h.6M427.4 340.2h.6M432.1 343.1h.6M429.2 340.7h.6M433.7 339.8h.6M430.5 339.1h.6M429.8 351.8h.6M436.0 342.3h.6M427.9 349.7h.6M428.2 337.8h.6M431.0 340.2h.6M426.8 347.9h.6M428.5 340.3h.6M430.6 343.3h.6M432.9 344.3h.6M434.0 348.0h.6M434.4 347.9h.6M430.4 345.9h.6M430.3 338.6h.6M427.5 346.6h.6M424.7 341.1h.6M427.2 343.8h.6M427.8 344.9h.6M429.8 342.4h.6M428.2 336.3h.6M430.4 339.5h.6M429.5 345.3h.6M432.7 346.5h.6M433.7 339.1h.6M431.8 349.5h.6M431.2 340.1h.6M431.2 342.2h.6M428.7 347.7h.6M429.8 340.1h.6M428.6 350.8h.6M428.3 346.4h.6M430.7 348.1h.6M429.6 340.7h.6M428.7 340.4h.6M436.3 344.7h.6M429.5 348.4h.6M431.8 343.4h.6M431.7 345.0h.6M432.9 349.8h.6M429.5 343.9h.6M429.8 348.3h.6M431.1 346.7h.6M432.3 341.8h.6M430.5 348.8h.6M432.4 346.8h.6M429.6 342.8h.6M428.2 343.1h.6M430.1 339.0h.6M433.0 341.3h.6M430.8 346.1h.6M428.9 337.7h.6M432.5 345.4h.6M429.6 348.0h.6M432.3 340.7h.6M430.1 337.9h.6M429.6 348.9h.6M428.3 346.9h.6M426.7 343.0h.6M432.4 350.0h.6M431.3 346.6h.6M434.3 335.5h.6M426.2 350.6h.6M436.0 346.1h.6M430.4 344.9h.6M430.3 341.9h.6M430.2 343.6h.6M431.8 346.4h.6M432.5 346.1h.6M428.0 348.9h.6M424.0 344.4h.6M431.0 342.2h.6M434.6 340.2h.6M427.5 342.3h.6M431.2 346.8h.6M430.5 346.3h.6M428.6 341.9h.6M430.5 339.3h.6M430.7 342.6h.6M431.8 340.5h.6M429.0 342.0h.6M429.4 340.5h.6M429.6 339.3h.6M431.5 346.3h.6M430.2 343.4h.6M428.2 340.7h.6M429.7 340.9h.6M427.5 344.6h.6M430.2 342.6h.6M428.3 343.8h.6M428.6 342.5h.6M430.7 346.5h.6M432.0 341.9h.6M433.1 340.0h.6M429.8 348.5h.6M435.8 344.5h.6M429.4 342.7h.6M427.4 343.5h.6M429.3 341.4h.6M433.0 341.3h.6M434.2 346.9h.6M431.7 342.0h.6M429.1 337.1h.6M430.9 343.1h.6M431.1 341.7h.6M431.4 338.8h.6M425.1 345.7h.6M432.7 333.1h.6M433.2 342.8h.6M429.9 338.7h.6M427.9 346.5h.6M428.5 343.9h.6M429.9 350.9h.6M432.3 339.4h.6M429.1 340.0h.6M427.0 341.6h.6M432.8 344.2h.6M431.8 343.5h.6M429.3 344.3h.6M430.1 350.7h.6M434.4 345.3h.6M431.6 337.1h.6M430.0 352.3h.6M428.4 346.8h.6M433.1 342.6h.6M429.7 342.4h.6M432.1 344.1h.6M433.7 348.1h.6M430.2 353.1h.6M429.5 341.9h.6M429.7 340.9h.6M429.3 343.8h.6M432.3 338.5h.6M427.0 341.3h.6M429.5 345.6h.6M428.4 349.3h.6M429.0 343.3h.6M430.4 348.1h.6M430.9 344.1h.6M429.0 344.6h.6M431.2 342.8h.6M430.2 337.6h.6M429.0 348.1h.6M433.5 343.8h.6M425.2 350.4h.6M429.8 353.0h.6M429.3 347.5h.6M428.8 348.8h.6M432.9 340.3h.6M433.2 354.0h.6M429.7 339.8h.6M430.9 342.6h.6M426.8 340.3h.6M430.8 338.7h.6M432.7 345.6h.6M429.8 348.9h.6M428.1 346.4h.6M427.1 342.9h.6M431.7 342.1h.6M430.0 346.3h.6M433.8 348.5h.6M431.3 343.1h.6M426.9 350.0h.6M434.6 336.5h.6M432.2 343.9h.6M431.9 345.1h.6M429.8 344.0h.6M430.1 348.1h.6M429.6 342.1h.6M431.7 346.3h.6M431.2 345.0h.6M433.6 347.9h.6M430.7 343.3h.6M431.8 337.5h.6M429.0 341.5h.6M430.6 342.7h.6M435.9 346.6h.6M431.0 355.9h.6M429.0 343.5h.6M435.0 349.0h.6M433.5 350.9h.6M427.3 341.8h.6M425.6 345.5h.6M433.9 339.9h.6M426.5 338.5h.6M438.7 348.9h.6M430.1 339.1h.6M424.1 341.9h.6M429.2 338.8h.6M428.0 350.9h.6M429.1 345.5h.6M419.0 343.7h.6M428.3 341.6h.6M422.4 344.7h.6M424.1 342.3h.6M421.4 344.5h.6M433.4 340.9h.6M430.6 337.6h.6M431.8 347.6h.6M427.2 349.3h.6M424.8 345.2h.6M437.1 344.9h.6M423.6 350.6h.6M431.6 343.7h.6M420.3 335.8h.6M421.7 352.2h.6M430.5 340.9h.6M434.6 352.1h.6M425.0 347.4h.6M421.1 346.8h.6M437.8 338.1h.6M429.3 341.9h.6M428.6 345.4h.6M430.4 349.3h.6M431.5 350.1h.6M433.9 350.4h.6M425.8 347.0h.6M427.3 340.9h.6M438.4 346.4h.6M429.3 334.7h.6M427.9 348.8h.6M428.1 342.3h.6M436.1 343.5h.6M427.4 344.5h.6M427.9 350.1h.6M431.8 344.7h.6M427.3 343.9h.6M437.2 343.5h.6M432.2 337.3h.6M430.6 348.4h.6M435.1 346.5h.6M431.8 346.6h.6M434.2 355.0h.6M430.0 341.0h.6M431.9 344.5h.6M432.1 348.8h.6M429.8 342.9h.6M430.5 338.9h.6M430.4 340.7h.6M431.2 345.6h.6M428.0 339.1h.6M429.3 341.7h.6M428.4 348.4h.6M433.6 338.7h.6M433.5 351.6h.6M434.4 346.4h.6M428.6 353.5h.6M427.5 337.6h.6M429.5 346.4h.6M424.1 339.1h.6M438.5 345.6h.6M432.8 342.2h.6M421.8 344.1h.6M435.5 341.7h.6M420.5 344.2h.6M427.7 345.1h.6M424.1 343.5h.6M426.4 349.3h.6M429.8 349.3h.6M428.8 334.6h.6M419.7 347.6h.6M433.2 349.3h.6M428.7 336.3h.6M426.7 347.0h.6M435.6 343.3h.6M426.4 341.2h.6M433.9 349.2h.6M420.3 350.9h.6M424.6 337.8h.6M421.4 341.5h.6M440.1 357.5h.6M423.1 341.7h.6M429.8 347.0h.6M426.8 337.3h.6M427.1 341.7h.6M420.5 345.7h.6M422.0 336.5h.6M436.3 349.6h.6M436.0 345.6h.6M427.1 344.6h.6M422.5 348.6h.6M430.3 343.5h.6M420.1 344.5h.6M436.8 352.1h.6M433.2 343.3h.6M429.7 347.7h.6M430.0 350.1h.6M425.9 333.7h.6M417.5 340.6h.6M422.4 348.2h.6M434.2 345.0h.6M431.6 345.4h.6M429.9 342.7h.6M427.1 350.8h.6M427.8 344.8h.6M434.8 349.8h.6M427.2 346.2h.6M424.2 345.6h.6M430.6 345.0h.6M429.8 346.8h.6M416.9 341.0h.6M429.4 342.6h.6M424.4 343.8h.6M436.8 343.9h.6M425.9 342.7h.6M423.4 347.4h.6M424.3 349.5h.6M433.4 347.8h.6M434.0 344.6h.6M420.6 344.7h.6M432.1 337.5h.6M423.2 350.4h.6M431.2 351.6h.6M432.3 345.3h.6M431.1 349.2h.6M428.9 344.0h.6M430.6 343.5h.6M440.6 341.3h.6M421.8 338.7h.6M434.1 343.0h.6M429.8 344.0h.6M430.4 337.9h.6M429.5 342.2h.6M434.3 348.0h.6M423.0 340.3h.6M431.8 350.8h.6M432.7 344.3h.6M434.4 333.5h.6M426.5 340.2h.6M424.1 347.8h.6M430.4 346.4h.6M428.4 348.0h.6M432.8 342.2h.6M433.6 340.5h.6M437.5 338.6h.6M427.7 339.7h.6M429.3 351.4h.6M425.5 353.7h.6M435.9 346.9h.6M426.2 349.4h.6M415.3 341.3h.6M433.7 344.8h.6M441.0 341.7h.6M422.6 343.9h.6M431.9 353.3h.6M420.6 345.8h.6M435.2 341.7h.6M426.9 339.1h.6M432.8 349.1h.6M431.9 346.2h.6M433.9 344.4h.6M432.5 349.0h.6M435.4 347.5h.6M429.5 348.5h.6M421.6 336.4h.6M436.9 345.7h.6M424.0 342.2h.6M428.3 345.4h.6M425.4 349.9h.6M420.8 358.8h.6M423.8 353.2h.6M432.3 336.7h.6M423.1 345.3h.6M430.4 342.9h.6M429.1 345.8h.6M423.5 345.3h.6M440.1 341.8h.6M424.1 348.3h.6M435.6 350.1h.6M426.0 344.6h.6M430.1 344.0h.6M431.0 350.3h.6M431.7 344.9h.6M428.1 353.8h.6M423.1 354.9h.6M432.7 345.4h.6M425.4 354.0h.6M405.6 353.3h.6M409.0 341.3h.6M401.2 347.9h.6M398.0 349.6h.6M403.0 351.6h.6M400.3 343.4h.6M403.0 352.0h.6M409.2 353.4h.6M400.9 344.2h.6M411.5 346.3h.6M401.6 352.6h.6M402.8 355.2h.6M396.8 346.2h.6M401.5 343.8h.6M398.4 355.4h.6M402.0 348.8h.6M398.6 349.5h.6M400.7 344.5h.6M404.0 343.6h.6M405.9 347.8h.6M391.9 342.4h.6M402.0 345.4h.6M408.0 355.4h.6M409.1 353.3h.6M406.2 346.6h.6M406.0 347.4h.6M400.7 343.2h.6M401.1 351.1h.6M400.6 344.4h.6M404.4 353.4h.6M400.5 352.8h.6M404.8 344.9h.6M400.7 341.0h.6M396.8 351.2h.6M397.4 351.1h.6M402.3 340.1h.6M398.9 356.1h.6M400.9 349.9h.6M398.1 342.1h.6M400.1 345.4h.6M401.3 340.6h.6M406.4 357.0h.6M397.9 350.7h.6M397.3 353.1h.6M397.5 348.7h.6M406.0 351.6h.6M399.6 342.5h.6M394.5 354.7h.6M402.9 349.6h.6M405.9 350.0h.6M398.0 348.8h.6M400.5 349.2h.6M410.8 351.9h.6M401.9 348.2h.6M398.1 344.9h.6M393.4 347.2h.6M394.8 341.0h.6M397.1 340.2h.6M406.3 354.9h.6M397.0 358.5h.6M403.5 338.0h.6M400.9 344.8h.6M393.9 348.1h.6M405.5 351.3h.6M395.0 346.3h.6M397.8 354.4h.6M400.5 344.9h.6M397.2 340.5h.6M397.5 353.3h.6M393.2 350.2h.6M400.4 353.0h.6M396.3 353.4h.6M407.1 359.6h.6M394.3 349.2h.6M400.0 349.9h.6M396.9 353.2h.6M410.2 356.1h.6M397.0 346.7h.6M403.8 349.9h.6M397.8 354.9h.6M402.9 353.9h.6M400.1 355.1h.6M399.0 344.3h.6M400.8 343.0h.6M405.9 352.6h.6M394.1 350.1h.6M404.2 347.7h.6M402.5 346.7h.6M400.6 348.9h.6M402.8 344.9h.6M396.3 350.8h.6M398.8 351.6h.6M398.8 343.4h.6M403.8 350.5h.6M403.8 347.8h.6M399.4 355.0h.6M394.0 357.1h.6M402.9 349.0h.6M401.2 352.0h.6M397.7 350.6h.6M397.0 341.0h.6M401.6 349.7h.6M403.4 351.8h.6M403.6 352.9h.6M396.6 354.8h.6M411.6 346.7h.6M395.8 352.4h.6M404.5 353.9h.6M407.0 343.0h.6M402.3 351.4h.6M405.8 345.3h.6M400.9 347.6h.6M400.2 348.6h.6M400.2 341.3h.6M400.7 349.6h.6M399.3 333.3h.6M398.0 346.3h.6M397.3 356.5h.6M404.5 348.5h.6M396.9 351.4h.6M398.4 356.0h.6M405.3 348.7h.6M403.3 345.7h.6M394.4 353.1h.6M407.4 347.9h.6M398.7 341.2h.6M409.5 343.9h.6M396.9 348.4h.6M405.7 349.5h.6M400.7 349.4h.6M404.2 349.1h.6M401.4 349.0h.6M396.3 355.4h.6M398.0 343.3h.6M399.1 349.4h.6M404.1 342.7h.6M395.7 350.1h.6M402.4 344.3h.6M396.2 350.1h.6M400.2 342.0h.6M397.3 356.0h.6M396.6 354.0h.6M394.6 356.0h.6M407.3 346.4h.6M398.1 352.1h.6M395.8 351.8h.6M405.7 350.5h.6M402.1 348.6h.6M404.8 345.6h.6M407.2 349.2h.6M399.5 341.9h.6M399.0 350.4h.6M405.8 342.0h.6M400.3 346.2h.6M396.0 349.3h.6M397.8 353.2h.6M393.2 340.5h.6M402.9 347.8h.6M401.3 344.9h.6M396.6 346.0h.6M400.6 345.5h.6M399.1 345.4h.6M401.7 344.2h.6M392.4 337.4h.6M400.7 349.7h.6M404.7 346.0h.6M396.2 342.6h.6M403.9 346.5h.6M404.8 348.9h.6M399.7 340.9h.6M398.1 352.9h.6M398.4 352.4h.6M394.2 353.9h.6M412.0 354.3h.6M402.1 343.7h.6M398.7 346.3h.6M401.5 340.2h.6M397.3 352.9h.6M401.4 352.7h.6M404.2 344.1h.6M395.4 351.4h.6M400.9 349.7h.6M397.5 353.9h.6M402.8 354.5h.6M399.4 352.4h.6M400.6 345.1h.6M400.5 341.8h.6M400.1 350.1h.6M403.6 344.5h.6M395.5 346.0h.6M392.5 346.3h.6M411.3 350.0h.6M397.8 346.2h.6M407.9 344.0h.6M400.3 348.9h.6M397.9 346.1h.6M394.1 345.5h.6M406.0 355.7h.6M399.7 352.5h.6M402.6 349.8h.6M400.3 354.8h.6M403.1 348.3h.6M399.9 353.5h.6M398.4 346.1h.6M399.7 347.1h.6M405.9 350.9h.6M400.4 346.9h.6M406.5 351.3h.6M409.2 353.4h.6M399.9 346.8h.6M399.7 350.1h.6M404.0 351.5h.6M407.1 342.4h.6M400.9 342.9h.6M396.7 346.6h.6M398.2 344.9h.6M394.7 354.4h.6M399.5 353.7h.6M396.4 338.8h.6M398.4 353.3h.6M398.6 351.1h.6M396.5 355.6h.6M402.5 354.0h.6M399.7 355.1h.6M401.1 347.1h.6M398.2 349.5h.6M397.2 343.9h.6M401.3 352.5h.6M399.6 353.1h.6M407.2 343.6h.6M401.8 344.9h.6M398.2 350.1h.6M391.3 352.0h.6M404.2 351.7h.6M403.4 357.5h.6M399.3 354.2h.6M406.6 351.5h.6M393.6 348.6h.6M399.6 342.0h.6M400.6 352.7h.6M399.8 348.5h.6M406.7 346.5h.6M397.0 349.5h.6M405.3 352.0h.6M401.1 347.1h.6M405.7 353.3h.6M393.8 350.8h.6M391.2 356.0h.6M403.3 346.5h.6M395.6 347.9h.6M393.8 351.8h.6M398.7 341.3h.6M400.7 354.6h.6M395.7 347.7h.6M408.1 350.1h.6M398.6 350.1h.6M403.9 344.8h.6M400.4 341.9h.6M394.4 342.4h.6M404.2 350.7h.6M403.7 354.8h.6M401.0 350.4h.6M402.4 351.4h.6M396.5 348.1h.6M400.2 349.5h.6M397.8 348.7h.6M401.9 350.1h.6M403.2 353.0h.6M403.0 353.7h.6M404.2 355.6h.6M403.3 346.5h.6M410.1 354.4h.6M405.8 352.6h.6M401.0 344.1h.6M402.5 347.7h.6M399.2 339.7h.6M407.0 344.0h.6M396.4 351.4h.6M403.1 345.7h.6M400.8 350.4h.6M401.4 351.7h.6M403.9 347.6h.6M394.3 359.1h.6M399.3 344.8h.6M403.8 351.9h.6M398.3 359.9h.6M391.4 355.1h.6M400.6 350.7h.6M402.1 348.2h.6M402.1 343.4h.6M399.2 357.6h.6M391.8 345.4h.6M404.3 347.5h.6M398.5 342.5h.6M400.3 348.5h.6M398.2 342.2h.6M401.4 351.2h.6M405.4 351.6h.6M406.9 354.7h.6M400.4 344.6h.6M402.5 353.6h.6M394.6 343.7h.6M403.6 346.8h.6M406.6 350.3h.6M398.6 343.3h.6M403.2 341.5h.6M395.6 343.4h.6M407.6 357.0h.6M399.9 347.6h.6M403.6 354.9h.6M397.6 359.2h.6M400.0 354.4h.6M391.3 349.1h.6M398.0 358.3h.6M399.9 343.5h.6M408.6 346.2h.6M400.8 343.6h.6M403.5 350.2h.6M399.6 347.5h.6M398.5 346.0h.6M395.1 354.7h.6M404.4 343.0h.6M396.1 351.1h.6M409.9 348.4h.6M399.5 348.2h.6M401.8 348.5h.6M405.1 353.7h.6M403.0 356.4h.6M399.9 346.8h.6M412.8 340.6h.6M394.5 338.7h.6M402.2 344.5h.6M405.1 339.8h.6M400.2 347.5h.6M396.5 354.3h.6M399.2 351.3h.6M398.7 350.0h.6M399.0 349.6h.6M400.4 346.2h.6M402.6 348.5h.6M405.2 343.3h.6M418.0 351.7h.6M402.1 345.5h.6M418.1 350.7h.6M420.4 342.8h.6M414.3 350.2h.6M416.2 346.2h.6M403.3 347.6h.6M413.4 347.1h.6M427.6 351.2h.6M406.8 347.8h.6M411.2 347.3h.6M428.8 350.2h.6M414.4 344.7h.6M412.5 348.3h.6M409.5 350.9h.6M414.2 342.8h.6M432.5 336.8h.6M411.6 346.6h.6M422.9 350.9h.6M427.2 352.5h.6M416.9 347.4h.6M423.2 346.9h.6M402.6 345.4h.6M420.0 349.1h.6M404.0 351.2h.6M416.8 341.7h.6M418.2 350.5h.6M418.8 345.9h.6M406.8 350.9h.6M416.0 347.0h.6M410.4 343.4h.6M397.0 345.8h.6M424.0 349.7h.6M407.8 352.4h.6M411.9 343.5h.6M422.8 351.9h.6M410.5 342.7h.6M413.4 338.5h.6M414.5 352.4h.6M416.5 344.4h.6M420.4 345.3h.6M425.4 345.7h.6M432.4 345.8h.6M415.7 343.7h.6M402.4 348.2h.6M417.2 343.6h.6M419.1 345.5h.6M409.0 346.7h.6M417.6 349.5h.6M425.2 348.3h.6M407.4 344.6h.6M417.3 342.8h.6M412.5 345.6h.6M413.1 347.6h.6M423.4 352.8h.6M422.0 350.5h.6M404.3 350.6h.6M425.7 342.2h.6M436.8 345.0h.6M392.5 353.2h.6M414.6 344.2h.6M408.8 350.8h.6M416.3 345.7h.6M424.4 343.7h.6M406.3 345.0h.6M407.2 349.4h.6M411.9 343.3h.6M409.8 340.0h.6M415.5 347.4h.6M419.5 346.2h.6M417.6 343.7h.6M414.2 347.5h.6M403.0 349.1h.6M415.3 347.2h.6M409.7 354.0h.6M414.0 344.3h.6M406.3 349.1h.6M412.1 344.2h.6M407.5 350.3h.6M414.8 350.7h.6M413.8 342.9h.6M421.8 348.1h.6M408.1 345.9h.6M405.2 349.9h.6M410.2 348.7h.6M416.3 346.1h.6M417.3 346.1h.6M403.3 345.5h.6M403.4 349.6h.6M419.9 344.9h.6M419.6 347.9h.6M422.8 343.7h.6M414.2 343.5h.6M407.8 351.8h.6M395.9 343.8h.6M418.4 349.7h.6M406.9 339.9h.6M398.5 348.3h.6M423.9 350.2h.6M407.4 351.7h.6M412.3 349.2h.6M412.3 352.6h.6M409.3 339.5h.6M411.2 347.7h.6M416.5 344.5h.6M411.9 343.0h.6M411.9 347.3h.6M416.2 352.8h.6M396.0 348.8h.6M417.9 342.9h.6M414.6 347.0h.6M405.0 349.5h.6M431.2 349.4h.6M421.0 350.7h.6M412.8 350.4h.6M406.7 347.6h.6M420.3 351.6h.6M411.4 346.0h.6M418.2 346.7h.6M415.2 349.8h.6M407.1 350.1h.6M417.4 346.1h.6M402.8 344.8h.6M413.6 350.3h.6M396.3 349.5h.6M415.7 343.1h.6M421.7 348.4h.6M417.9 343.6h.6M404.1 350.2h.6M426.6 348.3h.6M412.3 345.4h.6M398.6 350.4h.6M413.1 351.3h.6M407.5 350.7h.6M407.6 349.0h.6M426.3 344.5h.6M422.1 347.0h.6M405.6 347.7h.6M419.8 344.5h.6M411.6 345.0h.6M407.1 346.3h.6M421.4 345.3h.6M425.1 345.7h.6M407.8 350.7h.6M426.6 344.7h.6M419.2 343.0h.6M410.4 345.7h.6M420.3 342.6h.6M409.4 344.6h.6M414.9 342.7h.6M402.1 356.8h.6M415.9 341.8h.6M421.4 342.4h.6M397.2 352.8h.6M425.1 344.1h.6M404.3 348.6h.6M432.1 349.1h.6M419.9 342.9h.6M398.1 348.3h.6M423.0 347.5h.6M414.0 351.8h.6M406.5 350.8h.6M421.4 344.8h.6M415.1 347.4h.6M419.2 343.6h.6M411.9 347.3h.6M414.2 347.1h.6M416.2 346.3h.6M409.6 350.6h.6M408.3 345.9h.6M406.2 343.0h.6M418.0 346.9h.6M412.8 348.6h.6M412.5 349.3h.6M430.0 348.2h.6M411.6 352.7h.6M420.3 341.3h.6M425.8 347.7h.6M421.6 343.0h.6M406.5 344.8h.6M418.9 343.1h.6M407.7 350.3h.6M408.3 347.4h.6M406.0 341.1h.6M413.3 346.6h.6M401.3 350.4h.6M421.3 350.0h.6M409.5 343.0h.6M413.2 347.6h.6M412.5 345.0h.6M405.2 344.5h.6M413.3 345.3h.6M428.7 346.0h.6M418.0 345.4h.6M412.4 343.6h.6M409.7 341.8h.6M395.6 351.6h.6M404.7 348.5h.6M412.9 345.0h.6" stroke="#444" stroke-opacity=".26" stroke-width=".6" fill="none"/>
<path d="M406.2 311.2V363.0M389.8 346.7H443" stroke="#c0c0c0" stroke-width=".8" fill="none"/>
<rect x="389.8" y="311.2" width="53.20" height="51.80" fill="none" stroke="#333" stroke-width="1.1"/>
<path d="M425.3 313.2V336M409.2 324.3H443" stroke="#2a2a2a" stroke-width=".9" fill="none"/>
<text x="419.90" y="322.2" font-size="6.8" text-anchor="middle">2</text>
<text x="429.30" y="322.2" font-size="6.8" text-anchor="start">44</text>
<text x="419.90" y="332" font-size="6.8" text-anchor="middle">26</text>
<text x="429.30" y="332" font-size="6.8" text-anchor="start">28</text>
</g>
<text x="403.25" y="373.6" font-size="9.5" text-anchor="start" textLength="26.6" lengthAdjust="spacingAndGlyphs">Before</text>
<g class="q">
<rect x="448.3" y="311.2" width="53.70" height="51.80" fill="#fff"/>
<path filter="url(#bl)" d="M490.2 342.0h.6M489.5 342.7h.6M490.8 347.4h.6M488.7 347.9h.6M489.7 349.5h.6M488.2 338.5h.6M489.0 344.8h.6M487.6 343.3h.6M487.9 339.6h.6M492.5 341.3h.6M486.0 338.4h.6M486.5 343.9h.6M492.0 346.1h.6M486.8 339.6h.6M485.9 343.7h.6M490.5 342.3h.6M492.3 350.8h.6M488.9 336.4h.6M491.1 343.7h.6M490.1 347.5h.6M486.1 344.2h.6M488.9 341.3h.6M490.1 343.5h.6M487.5 350.6h.6M488.9 349.8h.6M488.1 347.7h.6M486.7 344.5h.6M491.0 336.3h.6M489.8 343.0h.6M491.1 344.6h.6M488.3 339.5h.6M495.4 341.4h.6M487.7 341.4h.6M487.8 344.8h.6M485.4 347.7h.6M487.9 346.1h.6M483.5 342.2h.6M487.8 342.6h.6M486.9 345.1h.6M489.4 340.5h.6M483.9 346.6h.6M487.7 347.8h.6M490.5 343.6h.6M485.1 342.7h.6M486.8 348.4h.6M484.5 347.2h.6M484.9 342.0h.6M485.2 341.5h.6M487.5 345.3h.6M487.1 346.4h.6M492.6 344.6h.6M485.8 343.4h.6M488.2 342.7h.6M491.2 348.1h.6M493.2 345.8h.6M482.2 343.5h.6M490.1 341.1h.6M487.1 347.2h.6M488.8 340.0h.6M487.1 333.1h.6M488.5 339.7h.6M488.4 339.8h.6M486.3 342.2h.6M495.0 339.8h.6M485.7 342.1h.6M491.0 346.8h.6M490.1 342.8h.6M488.8 341.3h.6M488.1 341.1h.6M485.1 340.5h.6M493.0 345.4h.6M486.7 343.6h.6M487.4 348.3h.6M488.4 341.7h.6M490.1 345.1h.6M486.9 341.3h.6M488.8 338.2h.6M486.3 347.5h.6M490.5 347.9h.6M487.4 341.9h.6M487.8 342.3h.6M491.5 343.2h.6M491.6 341.5h.6M489.4 349.7h.6M486.7 341.7h.6M487.1 338.3h.6M487.8 341.7h.6M493.6 342.3h.6M483.5 347.3h.6M490.7 343.9h.6M489.1 346.5h.6M487.2 344.1h.6M488.8 349.8h.6M491.8 344.6h.6M485.3 347.1h.6M488.3 348.1h.6M488.6 344.6h.6M490.0 341.4h.6M486.9 352.1h.6M486.4 347.3h.6M490.1 346.9h.6M491.7 339.3h.6M490.7 336.7h.6M488.6 345.2h.6M490.9 347.8h.6M486.3 343.0h.6M488.1 341.5h.6M486.6 341.7h.6M491.2 348.8h.6M490.2 349.9h.6M488.7 340.2h.6M486.9 344.7h.6M490.9 348.3h.6M486.4 347.4h.6M487.2 346.1h.6M490.6 349.2h.6M487.2 344.8h.6M489.5 342.5h.6M488.7 346.1h.6M484.6 341.7h.6M493.9 345.6h.6M487.2 337.5h.6M486.2 345.8h.6M490.1 345.6h.6M489.9 341.9h.6M492.2 340.0h.6M489.7 343.1h.6M484.5 347.2h.6M487.8 346.5h.6M491.4 344.6h.6M486.9 343.2h.6M488.3 349.1h.6M490.5 349.6h.6M490.2 341.3h.6M490.6 347.4h.6M488.2 345.6h.6M487.7 339.5h.6M488.3 346.7h.6M487.6 336.1h.6M486.6 347.8h.6M489.0 348.0h.6M486.7 342.5h.6M486.1 341.2h.6M489.7 344.5h.6M487.3 345.0h.6M485.4 342.6h.6M485.0 338.7h.6M485.3 340.1h.6M492.1 348.9h.6M491.4 341.9h.6M489.9 340.0h.6M487.2 344.9h.6M484.7 344.7h.6M489.9 336.7h.6M482.8 343.0h.6M488.2 344.5h.6M485.8 346.0h.6M488.8 341.4h.6M492.3 344.9h.6M490.2 350.6h.6M487.3 343.2h.6M484.4 343.2h.6M489.5 352.9h.6M489.8 344.7h.6M485.5 341.0h.6M484.1 339.1h.6M488.7 345.1h.6M486.3 343.2h.6M486.6 346.2h.6M490.0 342.0h.6M487.4 339.6h.6M487.4 351.8h.6M488.4 347.0h.6M489.8 349.2h.6M487.7 340.8h.6M490.9 347.3h.6M486.9 347.9h.6M488.4 343.8h.6M492.8 345.9h.6M489.2 342.9h.6M488.9 347.7h.6M489.5 341.3h.6M489.5 343.6h.6M489.2 343.3h.6M483.4 338.3h.6M487.6 336.2h.6M484.9 351.2h.6M490.1 342.4h.6M489.2 336.0h.6M489.0 347.5h.6M488.9 339.3h.6M490.7 342.1h.6M487.1 344.7h.6M487.8 351.3h.6M488.1 351.6h.6M489.5 339.6h.6M488.5 344.2h.6M491.8 348.6h.6M494.4 341.6h.6M487.4 352.3h.6M486.4 345.3h.6M492.2 340.4h.6M487.6 341.3h.6M489.7 345.4h.6M488.4 346.3h.6M486.6 342.7h.6M489.6 351.2h.6M488.4 344.2h.6M491.5 344.3h.6M491.5 344.9h.6M491.2 344.6h.6M486.3 341.0h.6M489.5 350.7h.6M492.8 342.9h.6M494.3 340.0h.6M486.5 347.3h.6M484.9 347.3h.6M489.3 346.2h.6M485.6 345.4h.6M490.7 343.8h.6M490.9 344.1h.6M489.3 342.9h.6M485.3 343.4h.6M489.6 341.3h.6M483.9 338.5h.6M491.5 343.2h.6M486.7 348.4h.6M488.1 338.6h.6M487.4 340.8h.6M488.0 340.7h.6M488.6 345.6h.6M487.1 343.3h.6M488.1 347.0h.6M486.8 346.7h.6M491.4 343.3h.6M486.2 342.9h.6M484.3 342.1h.6M485.7 343.4h.6M487.6 345.9h.6M488.7 345.5h.6M488.4 345.0h.6M485.8 346.4h.6M491.5 348.0h.6M485.3 345.5h.6M484.6 346.7h.6M488.0 342.3h.6M486.7 343.1h.6M488.5 340.5h.6M488.6 344.9h.6M489.7 343.8h.6M488.5 352.3h.6M490.8 345.2h.6M485.2 346.2h.6M489.8 334.4h.6M488.1 345.4h.6M488.6 344.4h.6M488.1 349.0h.6M489.4 343.0h.6M487.9 351.5h.6M486.4 342.1h.6M489.2 344.5h.6M489.2 348.9h.6M491.2 345.5h.6M488.6 343.8h.6M487.9 347.6h.6M485.5 340.3h.6M487.4 340.5h.6M486.7 348.3h.6M483.2 346.1h.6M485.4 343.1h.6M487.1 340.4h.6M485.0 344.3h.6M481.5 336.4h.6M487.5 348.0h.6M492.8 342.9h.6M486.6 343.0h.6M489.6 347.4h.6M486.2 345.7h.6M488.4 348.1h.6M487.5 343.3h.6M486.5 339.2h.6M489.1 346.6h.6M491.1 345.0h.6M487.4 340.7h.6M485.7 341.4h.6M489.3 344.3h.6M483.0 343.6h.6M487.8 340.2h.6M488.4 345.9h.6M486.0 339.1h.6M487.7 344.9h.6M487.9 349.6h.6M488.8 340.4h.6M490.3 341.7h.6M490.1 344.4h.6M491.4 340.4h.6M490.2 345.5h.6M486.3 346.5h.6M493.9 345.3h.6M486.7 343.5h.6M493.4 346.3h.6M494.3 341.7h.6M493.4 337.1h.6M486.1 343.5h.6M484.5 351.1h.6M484.0 346.8h.6M496.1 349.1h.6M484.9 341.3h.6M477.0 346.9h.6M491.3 350.5h.6M488.2 355.8h.6M490.8 333.4h.6M482.6 349.0h.6M485.0 349.2h.6M499.7 341.2h.6M497.9 344.6h.6M479.7 345.5h.6M491.4 342.1h.6M494.8 340.6h.6M486.0 349.6h.6M485.9 342.2h.6M486.9 348.3h.6M495.6 351.8h.6M496.3 344.9h.6M478.7 344.8h.6M484.9 340.0h.6M484.4 344.7h.6M487.2 349.6h.6M482.4 350.7h.6M487.2 348.7h.6M493.2 338.8h.6M494.9 341.4h.6M489.0 350.4h.6M491.6 337.2h.6M487.8 350.7h.6M486.4 344.6h.6M487.3 353.2h.6M484.3 340.3h.6M481.5 342.4h.6M485.8 346.7h.6M486.6 336.4h.6M479.1 348.4h.6M490.6 338.2h.6M491.6 332.8h.6M498.6 348.0h.6M478.7 347.6h.6M486.8 342.7h.6M485.2 343.9h.6M486.5 340.5h.6M484.2 347.8h.6M489.6 338.3h.6M484.5 352.8h.6M490.6 353.3h.6M480.2 339.8h.6M476.2 335.3h.6M485.1 339.7h.6M481.6 341.5h.6M486.1 349.2h.6M489.8 336.2h.6M494.4 343.3h.6M482.0 344.8h.6M485.0 338.0h.6M494.8 342.1h.6M484.0 347.7h.6M495.4 347.4h.6M482.5 347.2h.6M492.5 346.9h.6M490.2 342.6h.6M486.6 336.6h.6M483.4 339.3h.6M487.0 352.5h.6M475.7 338.4h.6M482.3 344.6h.6M492.8 341.1h.6M483.1 351.1h.6M488.9 347.6h.6M491.2 341.3h.6M488.1 341.7h.6M483.4 345.7h.6M489.2 338.6h.6M483.1 348.1h.6M487.8 348.3h.6M485.4 341.0h.6M490.9 348.0h.6M472.8 349.3h.6M483.2 348.4h.6M494.9 343.6h.6M482.1 346.3h.6M487.4 347.8h.6M480.0 346.2h.6M491.5 348.5h.6M490.1 351.0h.6M482.9 351.1h.6M488.0 340.0h.6M485.5 346.4h.6M488.7 351.8h.6M488.0 342.4h.6M498.0 343.3h.6M482.9 349.7h.6M484.9 341.1h.6M481.7 351.0h.6M481.7 345.5h.6M484.7 344.0h.6M482.9 345.8h.6M490.0 350.3h.6M485.2 339.2h.6M479.6 345.0h.6M474.5 351.7h.6M487.1 345.6h.6M480.0 341.8h.6M483.3 348.4h.6M484.9 348.1h.6M489.6 335.4h.6M485.8 351.3h.6M484.4 345.7h.6M486.4 338.9h.6M497.9 344.4h.6M490.2 342.8h.6M494.0 350.8h.6M492.9 349.8h.6M490.5 352.0h.6M489.0 345.7h.6M491.1 340.6h.6M474.3 349.1h.6M487.8 341.5h.6M485.7 340.3h.6M482.8 346.0h.6M487.6 349.2h.6M486.5 348.2h.6M490.4 341.5h.6M478.5 341.6h.6M485.7 342.4h.6M498.1 341.6h.6M489.4 341.2h.6M490.5 338.7h.6M491.8 345.9h.6M485.0 339.1h.6M495.4 342.2h.6M494.2 333.0h.6M481.0 354.1h.6M496.0 345.1h.6M492.0 348.1h.6M485.2 345.7h.6M481.2 338.3h.6M487.6 348.7h.6M487.8 338.9h.6M491.3 345.5h.6M490.8 343.6h.6M485.7 350.3h.6M493.9 339.0h.6M481.4 349.9h.6M488.8 345.3h.6M482.1 350.1h.6M487.9 346.1h.6M488.9 342.4h.6M489.0 345.7h.6M490.6 347.0h.6M480.6 341.5h.6M485.7 350.9h.6M483.7 350.7h.6M492.4 349.4h.6M498.3 345.0h.6M488.6 351.2h.6M489.0 350.0h.6M486.3 352.1h.6M488.8 335.5h.6M492.4 344.1h.6M482.6 343.6h.6M485.6 350.8h.6M488.7 344.7h.6M486.9 340.6h.6M483.8 342.7h.6M485.9 339.3h.6M485.0 350.1h.6M489.3 345.1h.6M488.7 343.9h.6M481.0 349.5h.6M498.3 347.6h.6M490.4 357.3h.6M480.9 347.7h.6M485.3 343.7h.6M478.7 344.7h.6M489.0 337.1h.6M485.9 342.6h.6M482.0 348.2h.6M495.2 347.2h.6M492.2 348.9h.6M486.7 348.0h.6M493.7 343.0h.6M486.3 338.2h.6M477.7 341.0h.6M491.5 346.9h.6M488.3 351.6h.6M478.1 351.9h.6M487.4 348.9h.6M493.9 341.0h.6M482.6 347.1h.6M486.7 342.2h.6M486.4 341.5h.6M487.7 343.2h.6M466.8 344.7h.6M462.3 349.7h.6M466.4 345.0h.6M458.1 357.1h.6M457.4 347.7h.6M458.4 345.0h.6M464.9 356.1h.6M459.4 346.0h.6M454.6 352.3h.6M457.9 351.8h.6M450.3 347.5h.6M462.5 351.2h.6M460.5 349.3h.6M458.6 347.4h.6M460.6 351.6h.6M463.7 348.4h.6M464.9 345.2h.6M467.7 353.7h.6M458.4 361.6h.6M465.8 356.4h.6M455.2 348.9h.6M461.9 354.1h.6M460.3 343.6h.6M464.9 348.6h.6M461.8 347.9h.6M459.5 343.2h.6M462.7 346.6h.6M452.9 351.2h.6M459.9 353.6h.6M463.3 344.0h.6M459.3 349.4h.6M460.4 344.7h.6M460.3 353.7h.6M465.0 355.9h.6M463.0 338.1h.6M458.9 346.9h.6M463.7 349.3h.6M461.4 351.5h.6M459.1 355.5h.6M467.3 353.0h.6M457.8 350.5h.6M463.9 352.6h.6M457.2 353.6h.6M462.9 351.9h.6M458.3 349.2h.6M452.3 349.2h.6M458.2 348.0h.6M458.9 347.9h.6M460.3 349.8h.6M457.5 348.8h.6M459.6 351.5h.6M461.8 347.8h.6M456.7 342.0h.6M455.0 351.2h.6M456.3 356.5h.6M459.4 347.6h.6M459.4 346.9h.6M457.5 349.6h.6M454.2 349.9h.6M459.6 345.3h.6M464.1 351.0h.6M464.4 346.4h.6M455.0 344.1h.6M453.7 340.9h.6M466.3 347.2h.6M460.8 347.0h.6M459.4 356.4h.6M453.0 345.0h.6M460.5 345.3h.6M462.8 355.1h.6M463.6 352.7h.6M459.3 353.8h.6M456.8 344.0h.6M459.0 348.2h.6M464.9 345.0h.6M464.6 345.9h.6M454.9 341.8h.6M459.9 342.9h.6M460.9 349.5h.6M458.4 340.8h.6M457.9 351.3h.6M452.8 352.4h.6M460.1 346.9h.6M460.8 352.2h.6M459.9 345.9h.6M463.2 346.3h.6M461.5 353.7h.6M465.2 356.4h.6M464.1 350.0h.6M459.2 350.2h.6M462.6 345.7h.6M466.1 342.3h.6M464.0 343.6h.6M455.6 347.1h.6M458.9 343.3h.6M462.5 348.8h.6M465.4 344.8h.6M452.7 352.4h.6M459.1 353.7h.6M450.6 343.8h.6M460.4 358.0h.6M455.1 340.9h.6M458.2 355.6h.6M466.3 343.3h.6M457.6 341.1h.6M456.6 345.0h.6M461.7 354.4h.6M469.6 347.7h.6M463.3 350.3h.6M460.5 357.9h.6M462.8 356.3h.6M461.2 353.2h.6M462.0 348.9h.6M457.2 347.5h.6M460.1 347.6h.6M458.6 346.2h.6M463.4 348.2h.6M459.5 348.3h.6M465.3 346.9h.6M465.7 345.5h.6M466.1 352.0h.6M458.0 351.4h.6M464.6 345.1h.6M459.1 350.7h.6M459.2 348.0h.6M460.1 350.7h.6M463.1 355.9h.6M458.7 357.2h.6M459.5 342.9h.6M458.3 347.8h.6M464.3 340.3h.6M457.5 348.7h.6M462.6 351.1h.6M463.4 348.6h.6M459.1 354.7h.6M466.9 351.0h.6M460.6 345.5h.6M468.4 351.1h.6M462.5 342.2h.6M462.4 360.1h.6M459.4 348.4h.6M466.2 348.5h.6M463.4 358.0h.6M455.3 345.6h.6M462.7 349.8h.6M460.2 348.6h.6M460.5 350.9h.6M458.1 348.1h.6M460.9 344.5h.6M461.8 339.6h.6M462.6 348.8h.6M455.3 355.3h.6M455.3 358.5h.6M457.1 354.7h.6M459.8 356.5h.6M459.1 353.9h.6M458.7 341.0h.6M461.6 351.4h.6M461.6 356.8h.6M457.1 342.9h.6M461.0 346.2h.6M459.6 349.3h.6M456.8 354.2h.6M459.5 357.3h.6M461.0 354.0h.6M458.9 346.4h.6M457.9 345.4h.6M461.8 349.9h.6M455.7 342.5h.6M456.6 341.2h.6M456.5 342.6h.6M462.8 344.2h.6M457.7 348.8h.6M460.1 351.2h.6M463.1 352.2h.6M458.6 354.9h.6M461.5 346.2h.6M466.0 344.0h.6M461.9 354.9h.6M460.5 350.9h.6M460.5 352.3h.6M460.9 349.3h.6M462.8 340.9h.6M461.0 348.0h.6M467.8 350.6h.6M457.4 352.2h.6M458.5 344.0h.6M458.9 351.6h.6M464.7 354.0h.6M460.9 348.6h.6M460.8 354.7h.6M459.5 354.5h.6M456.9 349.3h.6M463.1 352.4h.6M460.8 347.0h.6M452.9 347.4h.6M456.7 347.5h.6M466.3 345.9h.6M463.4 349.2h.6M455.6 349.8h.6M463.0 344.0h.6M455.4 347.6h.6M462.9 346.6h.6M461.7 351.4h.6M460.1 351.3h.6M465.0 348.5h.6M461.3 344.6h.6M457.2 348.9h.6M463.2 346.3h.6M454.5 353.4h.6M469.4 337.8h.6M455.8 349.9h.6M461.9 345.1h.6M461.3 354.2h.6M458.9 352.6h.6M460.5 345.2h.6M457.6 346.6h.6M465.3 354.5h.6M461.0 342.4h.6M458.1 347.5h.6M452.4 349.2h.6M461.1 343.4h.6M458.3 347.3h.6M467.3 352.3h.6M463.0 349.7h.6M455.0 353.4h.6M457.4 340.8h.6M462.9 347.8h.6M460.0 351.6h.6M459.1 351.1h.6M465.1 347.9h.6M458.6 349.4h.6M462.6 347.5h.6M460.3 346.3h.6M459.7 351.7h.6M456.8 348.5h.6M454.3 346.2h.6M460.3 351.7h.6M456.0 348.9h.6M456.4 350.7h.6M461.0 351.3h.6M459.2 343.0h.6M457.8 343.4h.6M457.4 349.1h.6M464.2 346.4h.6M457.0 350.2h.6M451.9 358.1h.6M454.0 353.8h.6M463.8 353.6h.6M459.6 352.6h.6M458.7 353.6h.6M457.5 345.7h.6M461.5 347.3h.6M462.6 345.5h.6M461.1 345.0h.6M459.6 358.8h.6M455.8 343.8h.6M453.8 348.3h.6M466.3 347.3h.6M463.6 348.5h.6M457.5 358.2h.6M464.2 341.2h.6M456.2 351.1h.6M462.5 348.3h.6M461.2 351.7h.6M458.6 353.7h.6M456.7 352.7h.6M463.6 350.2h.6M458.7 349.2h.6M451.4 350.4h.6M454.5 340.4h.6M463.0 345.3h.6M461.4 349.5h.6M453.2 345.3h.6M459.0 351.4h.6M460.3 343.7h.6M458.0 349.8h.6M455.1 347.4h.6M457.9 339.9h.6M466.7 353.2h.6M458.2 353.5h.6M456.0 356.1h.6M458.6 349.9h.6M457.8 349.7h.6M461.3 349.4h.6M456.8 352.7h.6M462.2 349.3h.6M464.1 346.0h.6M465.0 348.6h.6M465.9 347.3h.6M459.0 350.2h.6M464.3 355.7h.6M458.2 346.1h.6M463.0 354.8h.6M462.7 347.8h.6M464.9 349.2h.6M460.7 352.1h.6M457.8 339.3h.6M460.9 352.5h.6M461.7 351.7h.6M460.6 353.9h.6M460.5 355.9h.6M460.2 352.8h.6M457.9 350.6h.6M461.7 349.9h.6M466.0 349.5h.6M464.4 350.9h.6M464.2 345.3h.6M458.6 353.6h.6M456.8 351.0h.6M462.2 350.2h.6M461.7 351.7h.6M459.1 351.1h.6M458.0 347.3h.6M453.9 348.8h.6M453.4 349.4h.6M460.8 344.5h.6M460.3 350.6h.6M458.7 345.3h.6M459.6 351.1h.6M463.6 357.9h.6M452.4 350.8h.6M461.7 346.5h.6M461.3 358.6h.6M460.4 355.4h.6M464.1 347.3h.6M451.1 354.5h.6M466.0 341.5h.6M459.2 346.2h.6M460.8 349.6h.6M464.4 346.7h.6M467.5 341.7h.6M460.8 361.2h.6M459.6 352.1h.6M463.5 347.7h.6M452.6 350.2h.6M462.8 340.2h.6M458.1 351.8h.6M450.7 348.5h.6M453.9 343.3h.6M476.6 350.9h.6M483.2 344.7h.6M477.4 340.9h.6M460.1 348.9h.6M469.5 343.5h.6M456.7 346.2h.6M492.5 340.0h.6M463.9 350.9h.6M456.3 344.9h.6M473.6 350.9h.6M472.4 353.3h.6M472.7 346.6h.6M476.9 348.2h.6M459.9 343.7h.6M471.0 348.2h.6M462.3 344.5h.6M466.5 348.2h.6M469.3 349.1h.6M476.4 343.8h.6M470.4 342.7h.6M473.9 349.8h.6M464.4 340.9h.6M477.5 346.0h.6M472.8 348.6h.6M476.3 350.2h.6M469.0 339.4h.6M468.8 345.9h.6M469.4 348.4h.6M470.8 351.5h.6M467.5 347.0h.6M469.9 354.3h.6M464.7 343.5h.6M469.7 349.7h.6M473.1 346.4h.6M460.2 339.8h.6M471.1 346.2h.6M488.4 348.3h.6M476.7 350.4h.6M465.2 342.7h.6M469.8 352.2h.6M481.7 345.0h.6M462.1 350.2h.6M482.6 343.2h.6M487.1 344.3h.6M479.6 346.3h.6M470.1 344.9h.6M479.1 349.2h.6M480.1 346.0h.6M465.6 354.5h.6M488.1 346.3h.6M462.9 352.2h.6M474.2 347.2h.6M480.5 348.2h.6M474.0 353.9h.6M456.4 349.2h.6M464.3 347.3h.6M471.5 347.9h.6M451.8 349.4h.6M493.5 345.6h.6M480.9 349.2h.6M475.6 345.3h.6M478.6 347.9h.6M485.8 349.9h.6M466.7 336.8h.6M486.3 348.7h.6M474.5 344.9h.6M495.1 351.7h.6M473.9 345.7h.6M478.1 351.7h.6M477.6 350.3h.6M475.3 348.2h.6M461.8 347.4h.6M473.5 346.7h.6M470.9 348.1h.6M467.9 346.3h.6M461.4 355.1h.6M465.1 342.8h.6M468.2 345.6h.6M463.5 338.5h.6M487.6 350.6h.6M469.6 348.9h.6M463.1 341.3h.6M476.0 349.0h.6M466.9 347.0h.6M482.4 347.6h.6M474.6 349.0h.6M454.5 342.5h.6M461.7 347.8h.6M467.4 340.4h.6M480.9 346.3h.6M481.8 354.0h.6M458.3 342.6h.6M482.6 351.9h.6M476.5 348.3h.6M479.2 349.3h.6M461.6 349.6h.6M481.8 345.6h.6M464.8 345.3h.6M467.8 348.8h.6M479.9 347.1h.6M470.3 340.8h.6M469.2 343.5h.6M468.1 348.2h.6M474.5 359.2h.6M465.2 345.1h.6M462.8 346.1h.6M470.4 350.5h.6M455.6 350.2h.6M478.7 345.2h.6M466.9 347.7h.6M477.7 346.4h.6M471.6 347.1h.6M463.3 347.9h.6M478.1 347.2h.6M462.8 347.0h.6M472.0 348.1h.6M469.3 349.9h.6M482.7 349.9h.6M475.1 351.2h.6M472.6 346.4h.6M460.2 347.1h.6M483.8 343.7h.6M479.9 342.6h.6M475.7 353.3h.6M473.4 343.0h.6M475.5 346.5h.6M480.1 345.2h.6M457.5 345.4h.6M478.2 350.6h.6M475.4 347.1h.6M479.1 346.3h.6M468.9 347.8h.6M482.7 345.3h.6M477.4 344.8h.6M466.4 347.6h.6M461.1 344.1h.6M462.3 344.9h.6M464.8 355.0h.6M478.4 347.3h.6M461.0 338.8h.6M476.9 344.8h.6M482.3 345.7h.6M461.3 344.8h.6M459.3 342.2h.6M479.3 345.2h.6M479.1 345.1h.6M470.9 345.1h.6M468.1 344.7h.6M486.3 346.8h.6M455.5 352.8h.6M484.2 350.9h.6M472.0 346.5h.6M468.7 347.4h.6M477.1 347.0h.6M465.6 343.7h.6M487.8 352.8h.6M461.8 344.8h.6M472.6 349.0h.6M471.9 347.8h.6M476.2 350.9h.6M461.2 350.8h.6M476.8 348.9h.6M459.4 346.2h.6M470.6 349.2h.6M479.0 349.4h.6M461.3 351.3h.6M473.5 350.2h.6M472.8 344.6h.6M496.4 349.2h.6M479.7 345.4h.6M470.9 350.8h.6M476.9 353.0h.6M483.7 343.4h.6M459.1 351.0h.6M478.3 346.1h.6M470.3 345.1h.6M489.0 346.5h.6M460.5 350.1h.6M472.1 348.2h.6M469.5 346.9h.6M456.0 348.8h.6M466.7 345.7h.6M475.7 351.3h.6M453.6 346.6h.6M477.8 350.5h.6M464.7 348.1h.6M476.5 350.2h.6M467.3 346.4h.6M468.3 350.9h.6M482.6 345.5h.6M471.6 347.8h.6M464.8 346.6h.6M480.6 349.6h.6M466.8 344.8h.6M471.8 342.1h.6M475.6 347.4h.6M460.9 346.2h.6M466.9 346.1h.6M465.0 351.6h.6M464.2 349.6h.6" stroke="#444" stroke-opacity=".26" stroke-width=".6" fill="none"/>
<path d="M464.5 311.2V363.0M448.3 346.4H502" stroke="#c0c0c0" stroke-width=".8" fill="none"/>
<rect x="448.3" y="311.2" width="53.70" height="51.80" fill="none" stroke="#333" stroke-width="1.1"/>
<path d="M484.3 313.2V336M469 324.3H502" stroke="#2a2a2a" stroke-width=".9" fill="none"/>
<text x="478.30" y="322.2" font-size="6.8" text-anchor="middle">6</text>
<text x="487.30" y="322.2" font-size="6.8" text-anchor="start">45</text>
<text x="478.30" y="332" font-size="6.8" text-anchor="middle">24</text>
<text x="487.30" y="332" font-size="6.8" text-anchor="start">25</text>
</g>
<text x="465" y="373.6" font-size="9.5" text-anchor="start" textLength="18.9" lengthAdjust="spacingAndGlyphs">After</text>
</svg></body></html>
